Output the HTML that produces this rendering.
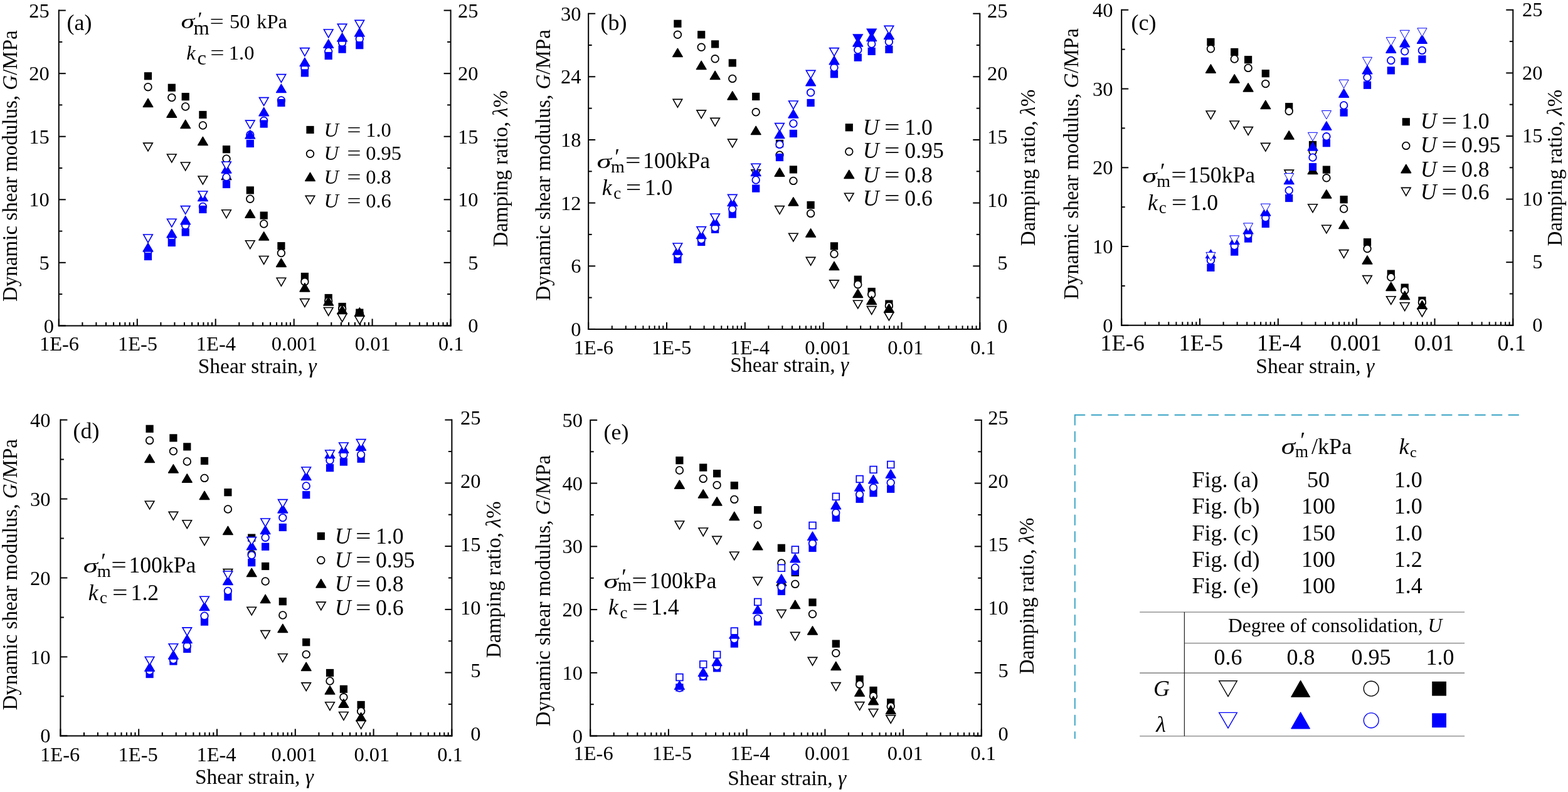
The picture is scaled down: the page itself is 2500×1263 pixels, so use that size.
<!DOCTYPE html>
<html><head><meta charset="utf-8"><style>
html,body{margin:0;padding:0;background:#fff;overflow:hidden;width:2500px;height:1263px;}
svg{display:block}
text{font-family:"Liberation Serif",serif;fill:#000}
</style></head><body>
<svg width="2500" height="1263" viewBox="0 0 2500 1263">
<rect width="2500" height="1263" fill="#fff"/>
<line x1="93.8" y1="15.6" x2="93.8" y2="520.4" stroke="#000" stroke-width="2"/>
<line x1="718.6" y1="15.6" x2="718.6" y2="520.4" stroke="#000" stroke-width="2"/>
<line x1="92.8" y1="519.4" x2="719.6" y2="519.4" stroke="#000" stroke-width="2"/>
<line x1="93.8" y1="519.4" x2="104.8" y2="519.4" stroke="#000" stroke-width="2"/>
<line x1="93.8" y1="469.1" x2="99.3" y2="469.1" stroke="#000" stroke-width="2"/>
<line x1="93.8" y1="418.8" x2="104.8" y2="418.8" stroke="#000" stroke-width="2"/>
<line x1="93.8" y1="368.6" x2="99.3" y2="368.6" stroke="#000" stroke-width="2"/>
<line x1="93.8" y1="318.3" x2="104.8" y2="318.3" stroke="#000" stroke-width="2"/>
<line x1="93.8" y1="268.0" x2="99.3" y2="268.0" stroke="#000" stroke-width="2"/>
<line x1="93.8" y1="217.7" x2="104.8" y2="217.7" stroke="#000" stroke-width="2"/>
<line x1="93.8" y1="167.4" x2="99.3" y2="167.4" stroke="#000" stroke-width="2"/>
<line x1="93.8" y1="117.2" x2="104.8" y2="117.2" stroke="#000" stroke-width="2"/>
<line x1="93.8" y1="66.9" x2="99.3" y2="66.9" stroke="#000" stroke-width="2"/>
<line x1="93.8" y1="16.6" x2="104.8" y2="16.6" stroke="#000" stroke-width="2"/>
<line x1="718.6" y1="519.4" x2="707.6" y2="519.4" stroke="#000" stroke-width="2"/>
<line x1="718.6" y1="469.1" x2="713.1" y2="469.1" stroke="#000" stroke-width="2"/>
<line x1="718.6" y1="418.8" x2="707.6" y2="418.8" stroke="#000" stroke-width="2"/>
<line x1="718.6" y1="368.6" x2="713.1" y2="368.6" stroke="#000" stroke-width="2"/>
<line x1="718.6" y1="318.3" x2="707.6" y2="318.3" stroke="#000" stroke-width="2"/>
<line x1="718.6" y1="268.0" x2="713.1" y2="268.0" stroke="#000" stroke-width="2"/>
<line x1="718.6" y1="217.7" x2="707.6" y2="217.7" stroke="#000" stroke-width="2"/>
<line x1="718.6" y1="167.4" x2="713.1" y2="167.4" stroke="#000" stroke-width="2"/>
<line x1="718.6" y1="117.2" x2="707.6" y2="117.2" stroke="#000" stroke-width="2"/>
<line x1="718.6" y1="66.9" x2="713.1" y2="66.9" stroke="#000" stroke-width="2"/>
<line x1="718.6" y1="16.6" x2="707.6" y2="16.6" stroke="#000" stroke-width="2"/>
<line x1="93.8" y1="519.4" x2="93.8" y2="508.4" stroke="#000" stroke-width="2"/>
<line x1="131.4" y1="519.4" x2="131.4" y2="513.9" stroke="#000" stroke-width="2"/>
<line x1="153.4" y1="519.4" x2="153.4" y2="513.9" stroke="#000" stroke-width="2"/>
<line x1="169.0" y1="519.4" x2="169.0" y2="513.9" stroke="#000" stroke-width="2"/>
<line x1="181.1" y1="519.4" x2="181.1" y2="513.9" stroke="#000" stroke-width="2"/>
<line x1="191.0" y1="519.4" x2="191.0" y2="513.9" stroke="#000" stroke-width="2"/>
<line x1="199.4" y1="519.4" x2="199.4" y2="513.9" stroke="#000" stroke-width="2"/>
<line x1="206.7" y1="519.4" x2="206.7" y2="513.9" stroke="#000" stroke-width="2"/>
<line x1="213.0" y1="519.4" x2="213.0" y2="513.9" stroke="#000" stroke-width="2"/>
<line x1="218.8" y1="519.4" x2="218.8" y2="508.4" stroke="#000" stroke-width="2"/>
<line x1="256.4" y1="519.4" x2="256.4" y2="513.9" stroke="#000" stroke-width="2"/>
<line x1="278.4" y1="519.4" x2="278.4" y2="513.9" stroke="#000" stroke-width="2"/>
<line x1="294.0" y1="519.4" x2="294.0" y2="513.9" stroke="#000" stroke-width="2"/>
<line x1="306.1" y1="519.4" x2="306.1" y2="513.9" stroke="#000" stroke-width="2"/>
<line x1="316.0" y1="519.4" x2="316.0" y2="513.9" stroke="#000" stroke-width="2"/>
<line x1="324.4" y1="519.4" x2="324.4" y2="513.9" stroke="#000" stroke-width="2"/>
<line x1="331.6" y1="519.4" x2="331.6" y2="513.9" stroke="#000" stroke-width="2"/>
<line x1="338.0" y1="519.4" x2="338.0" y2="513.9" stroke="#000" stroke-width="2"/>
<line x1="343.7" y1="519.4" x2="343.7" y2="508.4" stroke="#000" stroke-width="2"/>
<line x1="381.3" y1="519.4" x2="381.3" y2="513.9" stroke="#000" stroke-width="2"/>
<line x1="403.3" y1="519.4" x2="403.3" y2="513.9" stroke="#000" stroke-width="2"/>
<line x1="419.0" y1="519.4" x2="419.0" y2="513.9" stroke="#000" stroke-width="2"/>
<line x1="431.1" y1="519.4" x2="431.1" y2="513.9" stroke="#000" stroke-width="2"/>
<line x1="441.0" y1="519.4" x2="441.0" y2="513.9" stroke="#000" stroke-width="2"/>
<line x1="449.3" y1="519.4" x2="449.3" y2="513.9" stroke="#000" stroke-width="2"/>
<line x1="456.6" y1="519.4" x2="456.6" y2="513.9" stroke="#000" stroke-width="2"/>
<line x1="463.0" y1="519.4" x2="463.0" y2="513.9" stroke="#000" stroke-width="2"/>
<line x1="468.7" y1="519.4" x2="468.7" y2="508.4" stroke="#000" stroke-width="2"/>
<line x1="506.3" y1="519.4" x2="506.3" y2="513.9" stroke="#000" stroke-width="2"/>
<line x1="528.3" y1="519.4" x2="528.3" y2="513.9" stroke="#000" stroke-width="2"/>
<line x1="543.9" y1="519.4" x2="543.9" y2="513.9" stroke="#000" stroke-width="2"/>
<line x1="556.0" y1="519.4" x2="556.0" y2="513.9" stroke="#000" stroke-width="2"/>
<line x1="565.9" y1="519.4" x2="565.9" y2="513.9" stroke="#000" stroke-width="2"/>
<line x1="574.3" y1="519.4" x2="574.3" y2="513.9" stroke="#000" stroke-width="2"/>
<line x1="581.5" y1="519.4" x2="581.5" y2="513.9" stroke="#000" stroke-width="2"/>
<line x1="587.9" y1="519.4" x2="587.9" y2="513.9" stroke="#000" stroke-width="2"/>
<line x1="593.6" y1="519.4" x2="593.6" y2="508.4" stroke="#000" stroke-width="2"/>
<line x1="631.3" y1="519.4" x2="631.3" y2="513.9" stroke="#000" stroke-width="2"/>
<line x1="653.3" y1="519.4" x2="653.3" y2="513.9" stroke="#000" stroke-width="2"/>
<line x1="668.9" y1="519.4" x2="668.9" y2="513.9" stroke="#000" stroke-width="2"/>
<line x1="681.0" y1="519.4" x2="681.0" y2="513.9" stroke="#000" stroke-width="2"/>
<line x1="690.9" y1="519.4" x2="690.9" y2="513.9" stroke="#000" stroke-width="2"/>
<line x1="699.2" y1="519.4" x2="699.2" y2="513.9" stroke="#000" stroke-width="2"/>
<line x1="706.5" y1="519.4" x2="706.5" y2="513.9" stroke="#000" stroke-width="2"/>
<line x1="712.9" y1="519.4" x2="712.9" y2="513.9" stroke="#000" stroke-width="2"/>
<line x1="718.6" y1="519.4" x2="718.6" y2="508.4" stroke="#000" stroke-width="2"/>
<rect x="229.9" y="115.2" width="12.2" height="12.2" fill="#000"/>
<rect x="267.7" y="133.7" width="12.2" height="12.2" fill="#000"/>
<rect x="289.6" y="148.1" width="12.2" height="12.2" fill="#000"/>
<rect x="317.3" y="176.9" width="12.2" height="12.2" fill="#000"/>
<rect x="354.9" y="232.1" width="12.2" height="12.2" fill="#000"/>
<rect x="392.7" y="297.3" width="12.2" height="12.2" fill="#000"/>
<rect x="414.6" y="337.5" width="12.2" height="12.2" fill="#000"/>
<rect x="442.3" y="386.1" width="12.2" height="12.2" fill="#000"/>
<rect x="479.8" y="434.9" width="12.2" height="12.2" fill="#000"/>
<rect x="517.6" y="468.9" width="12.2" height="12.2" fill="#000"/>
<rect x="539.5" y="482.9" width="12.2" height="12.2" fill="#000"/>
<rect x="567.2" y="492.5" width="12.2" height="12.2" fill="#000"/>
<circle cx="236.0" cy="138.7" r="5.8" fill="#fff" stroke="#000" stroke-width="1.8"/>
<circle cx="273.8" cy="155.6" r="5.8" fill="#fff" stroke="#000" stroke-width="1.8"/>
<circle cx="295.7" cy="170.0" r="5.8" fill="#fff" stroke="#000" stroke-width="1.8"/>
<circle cx="323.4" cy="200.0" r="5.8" fill="#fff" stroke="#000" stroke-width="1.8"/>
<circle cx="361.0" cy="253.2" r="5.8" fill="#fff" stroke="#000" stroke-width="1.8"/>
<circle cx="398.8" cy="317.2" r="5.8" fill="#fff" stroke="#000" stroke-width="1.8"/>
<circle cx="420.7" cy="357.0" r="5.8" fill="#fff" stroke="#000" stroke-width="1.8"/>
<circle cx="448.4" cy="403.5" r="5.8" fill="#fff" stroke="#000" stroke-width="1.8"/>
<circle cx="485.9" cy="449.3" r="5.8" fill="#fff" stroke="#000" stroke-width="1.8"/>
<circle cx="523.7" cy="480.0" r="5.8" fill="#fff" stroke="#000" stroke-width="1.8"/>
<circle cx="545.6" cy="492.6" r="5.8" fill="#fff" stroke="#000" stroke-width="1.8"/>
<circle cx="573.3" cy="500.2" r="5.8" fill="#fff" stroke="#000" stroke-width="1.8"/>
<path d="M236.0 157.4L243.8 170.6L228.2 170.6Z" fill="#000" stroke="#000" stroke-width="1.5" stroke-linejoin="round"/>
<path d="M273.8 174.0L281.6 187.2L266.0 187.2Z" fill="#000" stroke="#000" stroke-width="1.5" stroke-linejoin="round"/>
<path d="M295.7 191.4L303.5 204.6L287.9 204.6Z" fill="#000" stroke="#000" stroke-width="1.5" stroke-linejoin="round"/>
<path d="M323.4 218.4L331.2 231.6L315.6 231.6Z" fill="#000" stroke="#000" stroke-width="1.5" stroke-linejoin="round"/>
<path d="M361.0 273.4L368.8 286.6L353.2 286.6Z" fill="#000" stroke="#000" stroke-width="1.5" stroke-linejoin="round"/>
<path d="M398.8 334.0L406.6 347.2L391.0 347.2Z" fill="#000" stroke="#000" stroke-width="1.5" stroke-linejoin="round"/>
<path d="M420.7 369.8L428.5 383.0L412.9 383.0Z" fill="#000" stroke="#000" stroke-width="1.5" stroke-linejoin="round"/>
<path d="M448.4 412.3L456.2 425.5L440.6 425.5Z" fill="#000" stroke="#000" stroke-width="1.5" stroke-linejoin="round"/>
<path d="M485.9 451.7L493.7 464.9L478.1 464.9Z" fill="#000" stroke="#000" stroke-width="1.5" stroke-linejoin="round"/>
<path d="M523.7 473.9L531.5 487.1L515.9 487.1Z" fill="#000" stroke="#000" stroke-width="1.5" stroke-linejoin="round"/>
<path d="M545.6 487.4L553.4 500.6L537.8 500.6Z" fill="#000" stroke="#000" stroke-width="1.5" stroke-linejoin="round"/>
<path d="M573.3 490.9L581.1 504.1L565.5 504.1Z" fill="#000" stroke="#000" stroke-width="1.5" stroke-linejoin="round"/>
<path d="M228.7 228.1L243.3 228.1L236.0 240.9Z" fill="#fff" stroke="#000" stroke-width="1.6"/>
<path d="M266.5 246.0L281.1 246.0L273.8 258.8Z" fill="#fff" stroke="#000" stroke-width="1.6"/>
<path d="M288.4 259.0L303.0 259.0L295.7 271.8Z" fill="#fff" stroke="#000" stroke-width="1.6"/>
<path d="M316.1 281.0L330.7 281.0L323.4 293.8Z" fill="#fff" stroke="#000" stroke-width="1.6"/>
<path d="M353.7 334.8L368.3 334.8L361.0 347.6Z" fill="#fff" stroke="#000" stroke-width="1.6"/>
<path d="M391.5 383.8L406.1 383.8L398.8 396.6Z" fill="#fff" stroke="#000" stroke-width="1.6"/>
<path d="M413.4 408.5L428.0 408.5L420.7 421.3Z" fill="#fff" stroke="#000" stroke-width="1.6"/>
<path d="M441.1 443.3L455.7 443.3L448.4 456.1Z" fill="#fff" stroke="#000" stroke-width="1.6"/>
<path d="M478.6 476.6L493.2 476.6L485.9 489.4Z" fill="#fff" stroke="#000" stroke-width="1.6"/>
<path d="M516.4 490.5L531.0 490.5L523.7 503.3Z" fill="#fff" stroke="#000" stroke-width="1.6"/>
<path d="M538.3 500.4L552.9 500.4L545.6 513.2Z" fill="#fff" stroke="#000" stroke-width="1.6"/>
<path d="M566.0 504.3L580.6 504.3L573.3 517.1Z" fill="#fff" stroke="#000" stroke-width="1.6"/>
<circle cx="236.0" cy="401.0" r="5.8" fill="#fff" stroke="#0000ff" stroke-width="1.8"/>
<circle cx="273.8" cy="378.0" r="5.8" fill="#fff" stroke="#0000ff" stroke-width="1.8"/>
<circle cx="295.7" cy="359.6" r="5.8" fill="#fff" stroke="#0000ff" stroke-width="1.8"/>
<circle cx="323.4" cy="329.4" r="5.8" fill="#fff" stroke="#0000ff" stroke-width="1.8"/>
<circle cx="361.0" cy="282.4" r="5.8" fill="#fff" stroke="#0000ff" stroke-width="1.8"/>
<circle cx="398.8" cy="215.0" r="5.8" fill="#fff" stroke="#0000ff" stroke-width="1.8"/>
<circle cx="420.7" cy="192.4" r="5.8" fill="#fff" stroke="#0000ff" stroke-width="1.8"/>
<circle cx="448.4" cy="160.0" r="5.8" fill="#fff" stroke="#0000ff" stroke-width="1.8"/>
<circle cx="485.9" cy="108.5" r="5.8" fill="#fff" stroke="#0000ff" stroke-width="1.8"/>
<circle cx="523.7" cy="82.0" r="5.8" fill="#fff" stroke="#0000ff" stroke-width="1.8"/>
<circle cx="545.6" cy="68.0" r="5.8" fill="#fff" stroke="#0000ff" stroke-width="1.8"/>
<circle cx="573.3" cy="62.2" r="5.8" fill="#fff" stroke="#0000ff" stroke-width="1.8"/>
<rect x="229.9" y="402.9" width="12.2" height="12.2" fill="#0000ff"/>
<rect x="267.7" y="380.9" width="12.2" height="12.2" fill="#0000ff"/>
<rect x="289.6" y="364.3" width="12.2" height="12.2" fill="#0000ff"/>
<rect x="317.3" y="327.9" width="12.2" height="12.2" fill="#0000ff"/>
<rect x="354.9" y="287.9" width="12.2" height="12.2" fill="#0000ff"/>
<rect x="392.7" y="222.9" width="12.2" height="12.2" fill="#0000ff"/>
<rect x="414.6" y="191.5" width="12.2" height="12.2" fill="#0000ff"/>
<rect x="442.3" y="157.9" width="12.2" height="12.2" fill="#0000ff"/>
<rect x="479.8" y="110.3" width="12.2" height="12.2" fill="#0000ff"/>
<rect x="517.6" y="82.9" width="12.2" height="12.2" fill="#0000ff"/>
<rect x="539.5" y="72.5" width="12.2" height="12.2" fill="#0000ff"/>
<rect x="567.2" y="66.1" width="12.2" height="12.2" fill="#0000ff"/>
<path d="M236.0 387.8L243.8 401.0L228.2 401.0Z" fill="#0000ff" stroke="#0000ff" stroke-width="1.5" stroke-linejoin="round"/>
<path d="M273.8 365.6L281.6 378.8L266.0 378.8Z" fill="#0000ff" stroke="#0000ff" stroke-width="1.5" stroke-linejoin="round"/>
<path d="M295.7 344.6L303.5 357.8L287.9 357.8Z" fill="#0000ff" stroke="#0000ff" stroke-width="1.5" stroke-linejoin="round"/>
<path d="M323.4 307.4L331.2 320.6L315.6 320.6Z" fill="#0000ff" stroke="#0000ff" stroke-width="1.5" stroke-linejoin="round"/>
<path d="M361.0 262.8L368.8 276.0L353.2 276.0Z" fill="#0000ff" stroke="#0000ff" stroke-width="1.5" stroke-linejoin="round"/>
<path d="M398.8 207.9L406.6 221.1L391.0 221.1Z" fill="#0000ff" stroke="#0000ff" stroke-width="1.5" stroke-linejoin="round"/>
<path d="M420.7 171.6L428.5 184.8L412.9 184.8Z" fill="#0000ff" stroke="#0000ff" stroke-width="1.5" stroke-linejoin="round"/>
<path d="M448.4 134.4L456.2 147.6L440.6 147.6Z" fill="#0000ff" stroke="#0000ff" stroke-width="1.5" stroke-linejoin="round"/>
<path d="M485.9 92.4L493.7 105.6L478.1 105.6Z" fill="#0000ff" stroke="#0000ff" stroke-width="1.5" stroke-linejoin="round"/>
<path d="M523.7 63.1L531.5 76.3L515.9 76.3Z" fill="#0000ff" stroke="#0000ff" stroke-width="1.5" stroke-linejoin="round"/>
<path d="M545.6 52.8L553.4 66.0L537.8 66.0Z" fill="#0000ff" stroke="#0000ff" stroke-width="1.5" stroke-linejoin="round"/>
<path d="M573.3 44.9L581.1 58.1L565.5 58.1Z" fill="#0000ff" stroke="#0000ff" stroke-width="1.5" stroke-linejoin="round"/>
<path d="M228.7 374.0L243.3 374.0L236.0 386.8Z" fill="#fff" stroke="#0000ff" stroke-width="1.6"/>
<path d="M266.5 349.2L281.1 349.2L273.8 362.0Z" fill="#fff" stroke="#0000ff" stroke-width="1.6"/>
<path d="M288.4 328.6L303.0 328.6L295.7 341.4Z" fill="#fff" stroke="#0000ff" stroke-width="1.6"/>
<path d="M316.1 305.0L330.7 305.0L323.4 317.8Z" fill="#fff" stroke="#0000ff" stroke-width="1.6"/>
<path d="M353.7 258.0L368.3 258.0L361.0 270.8Z" fill="#fff" stroke="#0000ff" stroke-width="1.6"/>
<path d="M391.5 192.1L406.1 192.1L398.8 204.9Z" fill="#fff" stroke="#0000ff" stroke-width="1.6"/>
<path d="M413.4 155.6L428.0 155.6L420.7 168.4Z" fill="#fff" stroke="#0000ff" stroke-width="1.6"/>
<path d="M441.1 118.6L455.7 118.6L448.4 131.4Z" fill="#fff" stroke="#0000ff" stroke-width="1.6"/>
<path d="M478.6 76.6L493.2 76.6L485.9 89.4Z" fill="#fff" stroke="#0000ff" stroke-width="1.6"/>
<path d="M516.4 47.0L531.0 47.0L523.7 59.8Z" fill="#fff" stroke="#0000ff" stroke-width="1.6"/>
<path d="M538.3 38.4L552.9 38.4L545.6 51.2Z" fill="#fff" stroke="#0000ff" stroke-width="1.6"/>
<path d="M566.0 32.4L580.6 32.4L573.3 45.2Z" fill="#fff" stroke="#0000ff" stroke-width="1.6"/>
<text x="86.0" y="531.0" font-size="32.5" text-anchor="end">0</text>
<text x="78.8" y="429.8" font-size="32.5" text-anchor="end">5</text>
<text x="78.8" y="329.3" font-size="32.5" text-anchor="end">10</text>
<text x="78.8" y="228.7" font-size="32.5" text-anchor="end">15</text>
<text x="78.8" y="128.2" font-size="32.5" text-anchor="end">20</text>
<text x="78.8" y="27.6" font-size="32.5" text-anchor="end">25</text>
<text x="762.5" y="530.4" font-size="32.5" text-anchor="end">0</text>
<text x="762.5" y="429.8" font-size="32.5" text-anchor="end">5</text>
<text x="762.5" y="329.3" font-size="32.5" text-anchor="end">10</text>
<text x="762.5" y="228.7" font-size="32.5" text-anchor="end">15</text>
<text x="762.5" y="128.2" font-size="32.5" text-anchor="end">20</text>
<text x="762.5" y="27.6" font-size="32.5" text-anchor="end">25</text>
<text x="94.5" y="559.3" font-size="32.5" text-anchor="middle">1E-6</text>
<text x="219.5" y="559.3" font-size="32.5" text-anchor="middle">1E-5</text>
<text x="344.4" y="559.3" font-size="32.5" text-anchor="middle">1E-4</text>
<text x="469.4" y="559.3" font-size="32.5" text-anchor="middle">0.001</text>
<text x="594.3" y="559.3" font-size="32.5" text-anchor="middle">0.01</text>
<text x="719.3" y="559.3" font-size="32.5" text-anchor="middle">0.1</text>
<text x="410.2" y="595.2" font-size="33.5" text-anchor="middle">Shear strain, <tspan font-style="italic">γ</tspan></text>
<text x="26.6" y="264.6" font-size="33" text-anchor="middle" transform="rotate(-90 26.6 264.6)">Dynamic shear modulus, <tspan font-style="italic">G</tspan>/MPa</text>
<text x="809.5" y="268.8" font-size="33" text-anchor="middle" transform="rotate(-90 809.5 268.8)">Damping ratio, <tspan font-style="italic">λ</tspan>%</text>
<text x="106.5" y="47.5" font-size="36">(a)</text>
<line x1="938.2" y1="20.7" x2="938.2" y2="525.9" stroke="#000" stroke-width="2"/>
<line x1="1562.3" y1="20.7" x2="1562.3" y2="525.9" stroke="#000" stroke-width="2"/>
<line x1="937.2" y1="524.9" x2="1563.3" y2="524.9" stroke="#000" stroke-width="2"/>
<line x1="938.2" y1="524.9" x2="949.2" y2="524.9" stroke="#000" stroke-width="2"/>
<line x1="938.2" y1="474.6" x2="943.7" y2="474.6" stroke="#000" stroke-width="2"/>
<line x1="938.2" y1="424.3" x2="949.2" y2="424.3" stroke="#000" stroke-width="2"/>
<line x1="938.2" y1="373.9" x2="943.7" y2="373.9" stroke="#000" stroke-width="2"/>
<line x1="938.2" y1="323.6" x2="949.2" y2="323.6" stroke="#000" stroke-width="2"/>
<line x1="938.2" y1="273.3" x2="943.7" y2="273.3" stroke="#000" stroke-width="2"/>
<line x1="938.2" y1="223.0" x2="949.2" y2="223.0" stroke="#000" stroke-width="2"/>
<line x1="938.2" y1="172.7" x2="943.7" y2="172.7" stroke="#000" stroke-width="2"/>
<line x1="938.2" y1="122.3" x2="949.2" y2="122.3" stroke="#000" stroke-width="2"/>
<line x1="938.2" y1="72.0" x2="943.7" y2="72.0" stroke="#000" stroke-width="2"/>
<line x1="938.2" y1="21.7" x2="949.2" y2="21.7" stroke="#000" stroke-width="2"/>
<line x1="1562.3" y1="524.9" x2="1551.3" y2="524.9" stroke="#000" stroke-width="2"/>
<line x1="1562.3" y1="474.6" x2="1556.8" y2="474.6" stroke="#000" stroke-width="2"/>
<line x1="1562.3" y1="424.3" x2="1551.3" y2="424.3" stroke="#000" stroke-width="2"/>
<line x1="1562.3" y1="373.9" x2="1556.8" y2="373.9" stroke="#000" stroke-width="2"/>
<line x1="1562.3" y1="323.6" x2="1551.3" y2="323.6" stroke="#000" stroke-width="2"/>
<line x1="1562.3" y1="273.3" x2="1556.8" y2="273.3" stroke="#000" stroke-width="2"/>
<line x1="1562.3" y1="223.0" x2="1551.3" y2="223.0" stroke="#000" stroke-width="2"/>
<line x1="1562.3" y1="172.7" x2="1556.8" y2="172.7" stroke="#000" stroke-width="2"/>
<line x1="1562.3" y1="122.3" x2="1551.3" y2="122.3" stroke="#000" stroke-width="2"/>
<line x1="1562.3" y1="72.0" x2="1556.8" y2="72.0" stroke="#000" stroke-width="2"/>
<line x1="1562.3" y1="21.7" x2="1551.3" y2="21.7" stroke="#000" stroke-width="2"/>
<line x1="938.2" y1="524.9" x2="938.2" y2="513.9" stroke="#000" stroke-width="2"/>
<line x1="975.8" y1="524.9" x2="975.8" y2="519.4" stroke="#000" stroke-width="2"/>
<line x1="997.8" y1="524.9" x2="997.8" y2="519.4" stroke="#000" stroke-width="2"/>
<line x1="1013.3" y1="524.9" x2="1013.3" y2="519.4" stroke="#000" stroke-width="2"/>
<line x1="1025.4" y1="524.9" x2="1025.4" y2="519.4" stroke="#000" stroke-width="2"/>
<line x1="1035.3" y1="524.9" x2="1035.3" y2="519.4" stroke="#000" stroke-width="2"/>
<line x1="1043.7" y1="524.9" x2="1043.7" y2="519.4" stroke="#000" stroke-width="2"/>
<line x1="1050.9" y1="524.9" x2="1050.9" y2="519.4" stroke="#000" stroke-width="2"/>
<line x1="1057.3" y1="524.9" x2="1057.3" y2="519.4" stroke="#000" stroke-width="2"/>
<line x1="1063.0" y1="524.9" x2="1063.0" y2="513.9" stroke="#000" stroke-width="2"/>
<line x1="1100.6" y1="524.9" x2="1100.6" y2="519.4" stroke="#000" stroke-width="2"/>
<line x1="1122.6" y1="524.9" x2="1122.6" y2="519.4" stroke="#000" stroke-width="2"/>
<line x1="1138.2" y1="524.9" x2="1138.2" y2="519.4" stroke="#000" stroke-width="2"/>
<line x1="1150.3" y1="524.9" x2="1150.3" y2="519.4" stroke="#000" stroke-width="2"/>
<line x1="1160.1" y1="524.9" x2="1160.1" y2="519.4" stroke="#000" stroke-width="2"/>
<line x1="1168.5" y1="524.9" x2="1168.5" y2="519.4" stroke="#000" stroke-width="2"/>
<line x1="1175.7" y1="524.9" x2="1175.7" y2="519.4" stroke="#000" stroke-width="2"/>
<line x1="1182.1" y1="524.9" x2="1182.1" y2="519.4" stroke="#000" stroke-width="2"/>
<line x1="1187.8" y1="524.9" x2="1187.8" y2="513.9" stroke="#000" stroke-width="2"/>
<line x1="1225.4" y1="524.9" x2="1225.4" y2="519.4" stroke="#000" stroke-width="2"/>
<line x1="1247.4" y1="524.9" x2="1247.4" y2="519.4" stroke="#000" stroke-width="2"/>
<line x1="1263.0" y1="524.9" x2="1263.0" y2="519.4" stroke="#000" stroke-width="2"/>
<line x1="1275.1" y1="524.9" x2="1275.1" y2="519.4" stroke="#000" stroke-width="2"/>
<line x1="1285.0" y1="524.9" x2="1285.0" y2="519.4" stroke="#000" stroke-width="2"/>
<line x1="1293.3" y1="524.9" x2="1293.3" y2="519.4" stroke="#000" stroke-width="2"/>
<line x1="1300.6" y1="524.9" x2="1300.6" y2="519.4" stroke="#000" stroke-width="2"/>
<line x1="1306.9" y1="524.9" x2="1306.9" y2="519.4" stroke="#000" stroke-width="2"/>
<line x1="1312.7" y1="524.9" x2="1312.7" y2="513.9" stroke="#000" stroke-width="2"/>
<line x1="1350.2" y1="524.9" x2="1350.2" y2="519.4" stroke="#000" stroke-width="2"/>
<line x1="1372.2" y1="524.9" x2="1372.2" y2="519.4" stroke="#000" stroke-width="2"/>
<line x1="1387.8" y1="524.9" x2="1387.8" y2="519.4" stroke="#000" stroke-width="2"/>
<line x1="1399.9" y1="524.9" x2="1399.9" y2="519.4" stroke="#000" stroke-width="2"/>
<line x1="1409.8" y1="524.9" x2="1409.8" y2="519.4" stroke="#000" stroke-width="2"/>
<line x1="1418.1" y1="524.9" x2="1418.1" y2="519.4" stroke="#000" stroke-width="2"/>
<line x1="1425.4" y1="524.9" x2="1425.4" y2="519.4" stroke="#000" stroke-width="2"/>
<line x1="1431.8" y1="524.9" x2="1431.8" y2="519.4" stroke="#000" stroke-width="2"/>
<line x1="1437.5" y1="524.9" x2="1437.5" y2="513.9" stroke="#000" stroke-width="2"/>
<line x1="1475.1" y1="524.9" x2="1475.1" y2="519.4" stroke="#000" stroke-width="2"/>
<line x1="1497.0" y1="524.9" x2="1497.0" y2="519.4" stroke="#000" stroke-width="2"/>
<line x1="1512.6" y1="524.9" x2="1512.6" y2="519.4" stroke="#000" stroke-width="2"/>
<line x1="1524.7" y1="524.9" x2="1524.7" y2="519.4" stroke="#000" stroke-width="2"/>
<line x1="1534.6" y1="524.9" x2="1534.6" y2="519.4" stroke="#000" stroke-width="2"/>
<line x1="1543.0" y1="524.9" x2="1543.0" y2="519.4" stroke="#000" stroke-width="2"/>
<line x1="1550.2" y1="524.9" x2="1550.2" y2="519.4" stroke="#000" stroke-width="2"/>
<line x1="1556.6" y1="524.9" x2="1556.6" y2="519.4" stroke="#000" stroke-width="2"/>
<line x1="1562.3" y1="524.9" x2="1562.3" y2="513.9" stroke="#000" stroke-width="2"/>
<rect x="1074.3" y="31.7" width="12.2" height="12.2" fill="#000"/>
<rect x="1112.1" y="49.2" width="12.2" height="12.2" fill="#000"/>
<rect x="1134.0" y="64.3" width="12.2" height="12.2" fill="#000"/>
<rect x="1161.7" y="94.3" width="12.2" height="12.2" fill="#000"/>
<rect x="1199.1" y="147.9" width="12.2" height="12.2" fill="#000"/>
<rect x="1236.9" y="222.9" width="12.2" height="12.2" fill="#000"/>
<rect x="1258.8" y="264.3" width="12.2" height="12.2" fill="#000"/>
<rect x="1286.5" y="320.9" width="12.2" height="12.2" fill="#000"/>
<rect x="1323.9" y="386.3" width="12.2" height="12.2" fill="#000"/>
<rect x="1361.7" y="439.6" width="12.2" height="12.2" fill="#000"/>
<rect x="1383.6" y="458.9" width="12.2" height="12.2" fill="#000"/>
<rect x="1411.3" y="478.5" width="12.2" height="12.2" fill="#000"/>
<circle cx="1080.4" cy="55.3" r="5.8" fill="#fff" stroke="#000" stroke-width="1.8"/>
<circle cx="1118.2" cy="75.3" r="5.8" fill="#fff" stroke="#000" stroke-width="1.8"/>
<circle cx="1140.1" cy="93.8" r="5.8" fill="#fff" stroke="#000" stroke-width="1.8"/>
<circle cx="1167.8" cy="125.4" r="5.8" fill="#fff" stroke="#000" stroke-width="1.8"/>
<circle cx="1205.2" cy="178.8" r="5.8" fill="#fff" stroke="#000" stroke-width="1.8"/>
<circle cx="1243.0" cy="247.2" r="5.8" fill="#fff" stroke="#000" stroke-width="1.8"/>
<circle cx="1264.9" cy="288.4" r="5.8" fill="#fff" stroke="#000" stroke-width="1.8"/>
<circle cx="1292.6" cy="340.4" r="5.8" fill="#fff" stroke="#000" stroke-width="1.8"/>
<circle cx="1330.0" cy="405.0" r="5.8" fill="#fff" stroke="#000" stroke-width="1.8"/>
<circle cx="1367.8" cy="453.7" r="5.8" fill="#fff" stroke="#000" stroke-width="1.8"/>
<circle cx="1389.7" cy="469.5" r="5.8" fill="#fff" stroke="#000" stroke-width="1.8"/>
<circle cx="1417.4" cy="487.8" r="5.8" fill="#fff" stroke="#000" stroke-width="1.8"/>
<path d="M1080.4 77.4L1088.2 90.6L1072.6 90.6Z" fill="#000" stroke="#000" stroke-width="1.5" stroke-linejoin="round"/>
<path d="M1118.2 97.4L1126.0 110.6L1110.4 110.6Z" fill="#000" stroke="#000" stroke-width="1.5" stroke-linejoin="round"/>
<path d="M1140.1 113.4L1147.9 126.6L1132.3 126.6Z" fill="#000" stroke="#000" stroke-width="1.5" stroke-linejoin="round"/>
<path d="M1167.8 145.8L1175.6 159.0L1160.0 159.0Z" fill="#000" stroke="#000" stroke-width="1.5" stroke-linejoin="round"/>
<path d="M1205.2 201.4L1213.0 214.6L1197.4 214.6Z" fill="#000" stroke="#000" stroke-width="1.5" stroke-linejoin="round"/>
<path d="M1243.0 268.0L1250.8 281.2L1235.2 281.2Z" fill="#000" stroke="#000" stroke-width="1.5" stroke-linejoin="round"/>
<path d="M1264.9 314.8L1272.7 328.0L1257.1 328.0Z" fill="#000" stroke="#000" stroke-width="1.5" stroke-linejoin="round"/>
<path d="M1292.6 364.8L1300.4 378.0L1284.8 378.0Z" fill="#000" stroke="#000" stroke-width="1.5" stroke-linejoin="round"/>
<path d="M1330.0 417.4L1337.8 430.6L1322.2 430.6Z" fill="#000" stroke="#000" stroke-width="1.5" stroke-linejoin="round"/>
<path d="M1367.8 461.2L1375.6 474.4L1360.0 474.4Z" fill="#000" stroke="#000" stroke-width="1.5" stroke-linejoin="round"/>
<path d="M1389.7 472.4L1397.5 485.6L1381.9 485.6Z" fill="#000" stroke="#000" stroke-width="1.5" stroke-linejoin="round"/>
<path d="M1417.4 485.0L1425.2 498.2L1409.6 498.2Z" fill="#000" stroke="#000" stroke-width="1.5" stroke-linejoin="round"/>
<path d="M1073.1 158.4L1087.7 158.4L1080.4 171.2Z" fill="#fff" stroke="#000" stroke-width="1.6"/>
<path d="M1110.9 175.9L1125.5 175.9L1118.2 188.7Z" fill="#fff" stroke="#000" stroke-width="1.6"/>
<path d="M1132.8 188.4L1147.4 188.4L1140.1 201.2Z" fill="#fff" stroke="#000" stroke-width="1.6"/>
<path d="M1160.5 222.1L1175.1 222.1L1167.8 234.9Z" fill="#fff" stroke="#000" stroke-width="1.6"/>
<path d="M1197.9 270.9L1212.5 270.9L1205.2 283.7Z" fill="#fff" stroke="#000" stroke-width="1.6"/>
<path d="M1235.7 328.6L1250.3 328.6L1243.0 341.4Z" fill="#fff" stroke="#000" stroke-width="1.6"/>
<path d="M1257.6 372.2L1272.2 372.2L1264.9 385.0Z" fill="#fff" stroke="#000" stroke-width="1.6"/>
<path d="M1285.3 410.4L1299.9 410.4L1292.6 423.2Z" fill="#fff" stroke="#000" stroke-width="1.6"/>
<path d="M1322.7 446.9L1337.3 446.9L1330.0 459.7Z" fill="#fff" stroke="#000" stroke-width="1.6"/>
<path d="M1360.5 479.2L1375.1 479.2L1367.8 492.0Z" fill="#fff" stroke="#000" stroke-width="1.6"/>
<path d="M1382.4 488.6L1397.0 488.6L1389.7 501.4Z" fill="#fff" stroke="#000" stroke-width="1.6"/>
<path d="M1410.1 498.2L1424.7 498.2L1417.4 511.0Z" fill="#fff" stroke="#000" stroke-width="1.6"/>
<rect x="1074.3" y="407.6" width="12.2" height="12.2" fill="#0000ff"/>
<rect x="1112.1" y="379.9" width="12.2" height="12.2" fill="#0000ff"/>
<rect x="1134.0" y="359.7" width="12.2" height="12.2" fill="#0000ff"/>
<rect x="1161.7" y="335.5" width="12.2" height="12.2" fill="#0000ff"/>
<rect x="1199.1" y="294.5" width="12.2" height="12.2" fill="#0000ff"/>
<rect x="1236.9" y="244.9" width="12.2" height="12.2" fill="#0000ff"/>
<rect x="1258.8" y="206.9" width="12.2" height="12.2" fill="#0000ff"/>
<rect x="1286.5" y="157.9" width="12.2" height="12.2" fill="#0000ff"/>
<rect x="1323.9" y="112.1" width="12.2" height="12.2" fill="#0000ff"/>
<rect x="1361.7" y="85.6" width="12.2" height="12.2" fill="#0000ff"/>
<rect x="1383.6" y="75.8" width="12.2" height="12.2" fill="#0000ff"/>
<rect x="1411.3" y="72.7" width="12.2" height="12.2" fill="#0000ff"/>
<circle cx="1080.4" cy="406.1" r="5.8" fill="#fff" stroke="#0000ff" stroke-width="1.8"/>
<circle cx="1118.2" cy="382.0" r="5.8" fill="#fff" stroke="#0000ff" stroke-width="1.8"/>
<circle cx="1140.1" cy="363.4" r="5.8" fill="#fff" stroke="#0000ff" stroke-width="1.8"/>
<circle cx="1167.8" cy="333.6" r="5.8" fill="#fff" stroke="#0000ff" stroke-width="1.8"/>
<circle cx="1205.2" cy="287.0" r="5.8" fill="#fff" stroke="#0000ff" stroke-width="1.8"/>
<circle cx="1243.0" cy="230.4" r="5.8" fill="#fff" stroke="#0000ff" stroke-width="1.8"/>
<circle cx="1264.9" cy="197.0" r="5.8" fill="#fff" stroke="#0000ff" stroke-width="1.8"/>
<circle cx="1292.6" cy="147.6" r="5.8" fill="#fff" stroke="#0000ff" stroke-width="1.8"/>
<circle cx="1330.0" cy="107.8" r="5.8" fill="#fff" stroke="#0000ff" stroke-width="1.8"/>
<circle cx="1367.8" cy="79.6" r="5.8" fill="#fff" stroke="#0000ff" stroke-width="1.8"/>
<circle cx="1389.7" cy="70.0" r="5.8" fill="#fff" stroke="#0000ff" stroke-width="1.8"/>
<circle cx="1417.4" cy="66.8" r="5.8" fill="#fff" stroke="#0000ff" stroke-width="1.8"/>
<path d="M1080.4 392.8L1088.2 406.0L1072.6 406.0Z" fill="#0000ff" stroke="#0000ff" stroke-width="1.5" stroke-linejoin="round"/>
<path d="M1118.2 367.4L1126.0 380.6L1110.4 380.6Z" fill="#0000ff" stroke="#0000ff" stroke-width="1.5" stroke-linejoin="round"/>
<path d="M1140.1 346.4L1147.9 359.6L1132.3 359.6Z" fill="#0000ff" stroke="#0000ff" stroke-width="1.5" stroke-linejoin="round"/>
<path d="M1167.8 315.4L1175.6 328.6L1160.0 328.6Z" fill="#0000ff" stroke="#0000ff" stroke-width="1.5" stroke-linejoin="round"/>
<path d="M1205.2 267.4L1213.0 280.6L1197.4 280.6Z" fill="#0000ff" stroke="#0000ff" stroke-width="1.5" stroke-linejoin="round"/>
<path d="M1243.0 207.4L1250.8 220.6L1235.2 220.6Z" fill="#0000ff" stroke="#0000ff" stroke-width="1.5" stroke-linejoin="round"/>
<path d="M1264.9 174.8L1272.7 188.0L1257.1 188.0Z" fill="#0000ff" stroke="#0000ff" stroke-width="1.5" stroke-linejoin="round"/>
<path d="M1292.6 123.6L1300.4 136.8L1284.8 136.8Z" fill="#0000ff" stroke="#0000ff" stroke-width="1.5" stroke-linejoin="round"/>
<path d="M1330.0 89.6L1337.8 102.8L1322.2 102.8Z" fill="#0000ff" stroke="#0000ff" stroke-width="1.5" stroke-linejoin="round"/>
<path d="M1367.8 60.8L1375.6 74.0L1360.0 74.0Z" fill="#0000ff" stroke="#0000ff" stroke-width="1.5" stroke-linejoin="round"/>
<path d="M1389.7 52.2L1397.5 65.4L1381.9 65.4Z" fill="#0000ff" stroke="#0000ff" stroke-width="1.5" stroke-linejoin="round"/>
<path d="M1417.4 49.2L1425.2 62.4L1409.6 62.4Z" fill="#0000ff" stroke="#0000ff" stroke-width="1.5" stroke-linejoin="round"/>
<path d="M1073.1 388.0L1087.7 388.0L1080.4 400.8Z" fill="#fff" stroke="#0000ff" stroke-width="1.6"/>
<path d="M1110.9 361.6L1125.5 361.6L1118.2 374.4Z" fill="#fff" stroke="#0000ff" stroke-width="1.6"/>
<path d="M1132.8 341.0L1147.4 341.0L1140.1 353.8Z" fill="#fff" stroke="#0000ff" stroke-width="1.6"/>
<path d="M1160.5 310.4L1175.1 310.4L1167.8 323.2Z" fill="#fff" stroke="#0000ff" stroke-width="1.6"/>
<path d="M1197.9 261.2L1212.5 261.2L1205.2 274.0Z" fill="#fff" stroke="#0000ff" stroke-width="1.6"/>
<path d="M1235.7 196.6L1250.3 196.6L1243.0 209.4Z" fill="#fff" stroke="#0000ff" stroke-width="1.6"/>
<path d="M1257.6 161.0L1272.2 161.0L1264.9 173.8Z" fill="#fff" stroke="#0000ff" stroke-width="1.6"/>
<path d="M1285.3 112.4L1299.9 112.4L1292.6 125.2Z" fill="#fff" stroke="#0000ff" stroke-width="1.6"/>
<path d="M1322.7 76.6L1337.3 76.6L1330.0 89.4Z" fill="#fff" stroke="#0000ff" stroke-width="1.6"/>
<path d="M1360.5 55.0L1375.1 55.0L1367.8 67.8Z" fill="#0000ff" stroke="#0000ff" stroke-width="1.6"/>
<path d="M1382.4 46.4L1397.0 46.4L1389.7 59.2Z" fill="#0000ff" stroke="#0000ff" stroke-width="1.6"/>
<path d="M1410.1 41.4L1424.7 41.4L1417.4 54.2Z" fill="#fff" stroke="#0000ff" stroke-width="1.6"/>
<text x="926.5" y="535.9" font-size="32.5" text-anchor="end">0</text>
<text x="926.5" y="435.3" font-size="32.5" text-anchor="end">6</text>
<text x="926.5" y="334.6" font-size="32.5" text-anchor="end">12</text>
<text x="926.5" y="234.0" font-size="32.5" text-anchor="end">18</text>
<text x="926.5" y="133.3" font-size="32.5" text-anchor="end">24</text>
<text x="926.5" y="32.7" font-size="32.5" text-anchor="end">30</text>
<text x="1606.5" y="530.9" font-size="32.5" text-anchor="end">0</text>
<text x="1606.5" y="430.3" font-size="32.5" text-anchor="end">5</text>
<text x="1606.5" y="329.6" font-size="32.5" text-anchor="end">10</text>
<text x="1606.5" y="229.0" font-size="32.5" text-anchor="end">15</text>
<text x="1606.5" y="128.3" font-size="32.5" text-anchor="end">20</text>
<text x="1606.5" y="27.7" font-size="32.5" text-anchor="end">25</text>
<text x="946.4" y="564.5" font-size="32.5" text-anchor="middle">1E-6</text>
<text x="1070.6" y="564.5" font-size="32.5" text-anchor="middle">1E-5</text>
<text x="1195.3" y="564.5" font-size="32.5" text-anchor="middle">1E-4</text>
<text x="1319.9" y="564.5" font-size="32.5" text-anchor="middle">0.001</text>
<text x="1443.7" y="564.5" font-size="32.5" text-anchor="middle">0.01</text>
<text x="1567.5" y="564.5" font-size="32.5" text-anchor="middle">0.1</text>
<text x="1258.8" y="593.1" font-size="33.5" text-anchor="middle">Shear strain, <tspan font-style="italic">γ</tspan></text>
<text x="876.8" y="263.5" font-size="33" text-anchor="middle" transform="rotate(-90 876.8 263.5)">Dynamic shear modulus, <tspan font-style="italic">G</tspan>/MPa</text>
<text x="1650.3" y="267.4" font-size="33" text-anchor="middle" transform="rotate(-90 1650.3 267.4)">Damping ratio, <tspan font-style="italic">λ</tspan>%</text>
<text x="957.5" y="47.5" font-size="36">(b)</text>
<line x1="1788.2" y1="14.8" x2="1788.2" y2="519.8" stroke="#000" stroke-width="2"/>
<line x1="2412.3" y1="14.8" x2="2412.3" y2="519.8" stroke="#000" stroke-width="2"/>
<line x1="1787.2" y1="518.8" x2="2413.3" y2="518.8" stroke="#000" stroke-width="2"/>
<line x1="1788.2" y1="518.8" x2="1799.2" y2="518.8" stroke="#000" stroke-width="2"/>
<line x1="1788.2" y1="455.9" x2="1793.7" y2="455.9" stroke="#000" stroke-width="2"/>
<line x1="1788.2" y1="393.0" x2="1799.2" y2="393.0" stroke="#000" stroke-width="2"/>
<line x1="1788.2" y1="330.2" x2="1793.7" y2="330.2" stroke="#000" stroke-width="2"/>
<line x1="1788.2" y1="267.3" x2="1799.2" y2="267.3" stroke="#000" stroke-width="2"/>
<line x1="1788.2" y1="204.4" x2="1793.7" y2="204.4" stroke="#000" stroke-width="2"/>
<line x1="1788.2" y1="141.6" x2="1799.2" y2="141.6" stroke="#000" stroke-width="2"/>
<line x1="1788.2" y1="78.7" x2="1793.7" y2="78.7" stroke="#000" stroke-width="2"/>
<line x1="1788.2" y1="15.8" x2="1799.2" y2="15.8" stroke="#000" stroke-width="2"/>
<line x1="2412.3" y1="518.8" x2="2401.3" y2="518.8" stroke="#000" stroke-width="2"/>
<line x1="2412.3" y1="468.5" x2="2406.8" y2="468.5" stroke="#000" stroke-width="2"/>
<line x1="2412.3" y1="418.2" x2="2401.3" y2="418.2" stroke="#000" stroke-width="2"/>
<line x1="2412.3" y1="367.9" x2="2406.8" y2="367.9" stroke="#000" stroke-width="2"/>
<line x1="2412.3" y1="317.6" x2="2401.3" y2="317.6" stroke="#000" stroke-width="2"/>
<line x1="2412.3" y1="267.3" x2="2406.8" y2="267.3" stroke="#000" stroke-width="2"/>
<line x1="2412.3" y1="217.0" x2="2401.3" y2="217.0" stroke="#000" stroke-width="2"/>
<line x1="2412.3" y1="166.7" x2="2406.8" y2="166.7" stroke="#000" stroke-width="2"/>
<line x1="2412.3" y1="116.4" x2="2401.3" y2="116.4" stroke="#000" stroke-width="2"/>
<line x1="2412.3" y1="66.1" x2="2406.8" y2="66.1" stroke="#000" stroke-width="2"/>
<line x1="2412.3" y1="15.8" x2="2401.3" y2="15.8" stroke="#000" stroke-width="2"/>
<line x1="1788.2" y1="518.8" x2="1788.2" y2="507.8" stroke="#000" stroke-width="2"/>
<line x1="1825.8" y1="518.8" x2="1825.8" y2="513.3" stroke="#000" stroke-width="2"/>
<line x1="1847.8" y1="518.8" x2="1847.8" y2="513.3" stroke="#000" stroke-width="2"/>
<line x1="1863.3" y1="518.8" x2="1863.3" y2="513.3" stroke="#000" stroke-width="2"/>
<line x1="1875.4" y1="518.8" x2="1875.4" y2="513.3" stroke="#000" stroke-width="2"/>
<line x1="1885.3" y1="518.8" x2="1885.3" y2="513.3" stroke="#000" stroke-width="2"/>
<line x1="1893.7" y1="518.8" x2="1893.7" y2="513.3" stroke="#000" stroke-width="2"/>
<line x1="1900.9" y1="518.8" x2="1900.9" y2="513.3" stroke="#000" stroke-width="2"/>
<line x1="1907.3" y1="518.8" x2="1907.3" y2="513.3" stroke="#000" stroke-width="2"/>
<line x1="1913.0" y1="518.8" x2="1913.0" y2="507.8" stroke="#000" stroke-width="2"/>
<line x1="1950.6" y1="518.8" x2="1950.6" y2="513.3" stroke="#000" stroke-width="2"/>
<line x1="1972.6" y1="518.8" x2="1972.6" y2="513.3" stroke="#000" stroke-width="2"/>
<line x1="1988.2" y1="518.8" x2="1988.2" y2="513.3" stroke="#000" stroke-width="2"/>
<line x1="2000.3" y1="518.8" x2="2000.3" y2="513.3" stroke="#000" stroke-width="2"/>
<line x1="2010.1" y1="518.8" x2="2010.1" y2="513.3" stroke="#000" stroke-width="2"/>
<line x1="2018.5" y1="518.8" x2="2018.5" y2="513.3" stroke="#000" stroke-width="2"/>
<line x1="2025.7" y1="518.8" x2="2025.7" y2="513.3" stroke="#000" stroke-width="2"/>
<line x1="2032.1" y1="518.8" x2="2032.1" y2="513.3" stroke="#000" stroke-width="2"/>
<line x1="2037.8" y1="518.8" x2="2037.8" y2="507.8" stroke="#000" stroke-width="2"/>
<line x1="2075.4" y1="518.8" x2="2075.4" y2="513.3" stroke="#000" stroke-width="2"/>
<line x1="2097.4" y1="518.8" x2="2097.4" y2="513.3" stroke="#000" stroke-width="2"/>
<line x1="2113.0" y1="518.8" x2="2113.0" y2="513.3" stroke="#000" stroke-width="2"/>
<line x1="2125.1" y1="518.8" x2="2125.1" y2="513.3" stroke="#000" stroke-width="2"/>
<line x1="2135.0" y1="518.8" x2="2135.0" y2="513.3" stroke="#000" stroke-width="2"/>
<line x1="2143.3" y1="518.8" x2="2143.3" y2="513.3" stroke="#000" stroke-width="2"/>
<line x1="2150.6" y1="518.8" x2="2150.6" y2="513.3" stroke="#000" stroke-width="2"/>
<line x1="2156.9" y1="518.8" x2="2156.9" y2="513.3" stroke="#000" stroke-width="2"/>
<line x1="2162.7" y1="518.8" x2="2162.7" y2="507.8" stroke="#000" stroke-width="2"/>
<line x1="2200.2" y1="518.8" x2="2200.2" y2="513.3" stroke="#000" stroke-width="2"/>
<line x1="2222.2" y1="518.8" x2="2222.2" y2="513.3" stroke="#000" stroke-width="2"/>
<line x1="2237.8" y1="518.8" x2="2237.8" y2="513.3" stroke="#000" stroke-width="2"/>
<line x1="2249.9" y1="518.8" x2="2249.9" y2="513.3" stroke="#000" stroke-width="2"/>
<line x1="2259.8" y1="518.8" x2="2259.8" y2="513.3" stroke="#000" stroke-width="2"/>
<line x1="2268.1" y1="518.8" x2="2268.1" y2="513.3" stroke="#000" stroke-width="2"/>
<line x1="2275.4" y1="518.8" x2="2275.4" y2="513.3" stroke="#000" stroke-width="2"/>
<line x1="2281.8" y1="518.8" x2="2281.8" y2="513.3" stroke="#000" stroke-width="2"/>
<line x1="2287.5" y1="518.8" x2="2287.5" y2="507.8" stroke="#000" stroke-width="2"/>
<line x1="2325.1" y1="518.8" x2="2325.1" y2="513.3" stroke="#000" stroke-width="2"/>
<line x1="2347.0" y1="518.8" x2="2347.0" y2="513.3" stroke="#000" stroke-width="2"/>
<line x1="2362.6" y1="518.8" x2="2362.6" y2="513.3" stroke="#000" stroke-width="2"/>
<line x1="2374.7" y1="518.8" x2="2374.7" y2="513.3" stroke="#000" stroke-width="2"/>
<line x1="2384.6" y1="518.8" x2="2384.6" y2="513.3" stroke="#000" stroke-width="2"/>
<line x1="2393.0" y1="518.8" x2="2393.0" y2="513.3" stroke="#000" stroke-width="2"/>
<line x1="2400.2" y1="518.8" x2="2400.2" y2="513.3" stroke="#000" stroke-width="2"/>
<line x1="2406.6" y1="518.8" x2="2406.6" y2="513.3" stroke="#000" stroke-width="2"/>
<line x1="2412.3" y1="518.8" x2="2412.3" y2="507.8" stroke="#000" stroke-width="2"/>
<rect x="1924.3" y="60.9" width="12.2" height="12.2" fill="#000"/>
<rect x="1962.1" y="76.9" width="12.2" height="12.2" fill="#000"/>
<rect x="1984.0" y="89.1" width="12.2" height="12.2" fill="#000"/>
<rect x="2011.7" y="111.1" width="12.2" height="12.2" fill="#000"/>
<rect x="2049.1" y="164.1" width="12.2" height="12.2" fill="#000"/>
<rect x="2086.9" y="224.9" width="12.2" height="12.2" fill="#000"/>
<rect x="2108.8" y="264.5" width="12.2" height="12.2" fill="#000"/>
<rect x="2136.5" y="312.1" width="12.2" height="12.2" fill="#000"/>
<rect x="2173.9" y="380.1" width="12.2" height="12.2" fill="#000"/>
<rect x="2211.7" y="430.5" width="12.2" height="12.2" fill="#000"/>
<rect x="2233.6" y="452.5" width="12.2" height="12.2" fill="#000"/>
<rect x="2261.3" y="473.2" width="12.2" height="12.2" fill="#000"/>
<circle cx="1930.4" cy="77.8" r="5.8" fill="#fff" stroke="#000" stroke-width="1.8"/>
<circle cx="1968.2" cy="94.0" r="5.8" fill="#fff" stroke="#000" stroke-width="1.8"/>
<circle cx="1990.1" cy="108.4" r="5.8" fill="#fff" stroke="#000" stroke-width="1.8"/>
<circle cx="2017.8" cy="133.6" r="5.8" fill="#fff" stroke="#000" stroke-width="1.8"/>
<circle cx="2055.2" cy="177.2" r="5.8" fill="#fff" stroke="#000" stroke-width="1.8"/>
<circle cx="2093.0" cy="241.5" r="5.8" fill="#fff" stroke="#000" stroke-width="1.8"/>
<circle cx="2114.9" cy="283.8" r="5.8" fill="#fff" stroke="#000" stroke-width="1.8"/>
<circle cx="2142.6" cy="333.0" r="5.8" fill="#fff" stroke="#000" stroke-width="1.8"/>
<circle cx="2180.0" cy="396.6" r="5.8" fill="#fff" stroke="#000" stroke-width="1.8"/>
<circle cx="2217.8" cy="442.0" r="5.8" fill="#fff" stroke="#000" stroke-width="1.8"/>
<circle cx="2239.7" cy="463.2" r="5.8" fill="#fff" stroke="#000" stroke-width="1.8"/>
<circle cx="2267.4" cy="482.1" r="5.8" fill="#fff" stroke="#000" stroke-width="1.8"/>
<path d="M1930.4 103.0L1938.2 116.2L1922.6 116.2Z" fill="#000" stroke="#000" stroke-width="1.5" stroke-linejoin="round"/>
<path d="M1968.2 118.8L1976.0 132.0L1960.4 132.0Z" fill="#000" stroke="#000" stroke-width="1.5" stroke-linejoin="round"/>
<path d="M1990.1 132.8L1997.9 146.0L1982.3 146.0Z" fill="#000" stroke="#000" stroke-width="1.5" stroke-linejoin="round"/>
<path d="M2017.8 160.4L2025.6 173.6L2010.0 173.6Z" fill="#000" stroke="#000" stroke-width="1.5" stroke-linejoin="round"/>
<path d="M2055.2 208.8L2063.0 222.0L2047.4 222.0Z" fill="#000" stroke="#000" stroke-width="1.5" stroke-linejoin="round"/>
<path d="M2093.0 264.4L2100.8 277.6L2085.2 277.6Z" fill="#000" stroke="#000" stroke-width="1.5" stroke-linejoin="round"/>
<path d="M2114.9 302.8L2122.7 316.0L2107.1 316.0Z" fill="#000" stroke="#000" stroke-width="1.5" stroke-linejoin="round"/>
<path d="M2142.6 351.4L2150.4 364.6L2134.8 364.6Z" fill="#000" stroke="#000" stroke-width="1.5" stroke-linejoin="round"/>
<path d="M2180.0 407.8L2187.8 421.0L2172.2 421.0Z" fill="#000" stroke="#000" stroke-width="1.5" stroke-linejoin="round"/>
<path d="M2217.8 450.2L2225.6 463.4L2210.0 463.4Z" fill="#000" stroke="#000" stroke-width="1.5" stroke-linejoin="round"/>
<path d="M2239.7 464.4L2247.5 477.6L2231.9 477.6Z" fill="#000" stroke="#000" stroke-width="1.5" stroke-linejoin="round"/>
<path d="M2267.4 479.6L2275.2 492.8L2259.6 492.8Z" fill="#000" stroke="#000" stroke-width="1.5" stroke-linejoin="round"/>
<path d="M1923.1 177.0L1937.7 177.0L1930.4 189.8Z" fill="#fff" stroke="#000" stroke-width="1.6"/>
<path d="M1960.9 193.0L1975.5 193.0L1968.2 205.8Z" fill="#fff" stroke="#000" stroke-width="1.6"/>
<path d="M1982.8 202.6L1997.4 202.6L1990.1 215.4Z" fill="#fff" stroke="#000" stroke-width="1.6"/>
<path d="M2010.5 228.4L2025.1 228.4L2017.8 241.2Z" fill="#fff" stroke="#000" stroke-width="1.6"/>
<path d="M2047.9 271.1L2062.5 271.1L2055.2 283.9Z" fill="#fff" stroke="#000" stroke-width="1.6"/>
<path d="M2085.7 325.8L2100.3 325.8L2093.0 338.6Z" fill="#fff" stroke="#000" stroke-width="1.6"/>
<path d="M2107.6 359.2L2122.2 359.2L2114.9 372.0Z" fill="#fff" stroke="#000" stroke-width="1.6"/>
<path d="M2135.3 398.6L2149.9 398.6L2142.6 411.4Z" fill="#fff" stroke="#000" stroke-width="1.6"/>
<path d="M2172.7 439.6L2187.3 439.6L2180.0 452.4Z" fill="#fff" stroke="#000" stroke-width="1.6"/>
<path d="M2210.5 472.7L2225.1 472.7L2217.8 485.5Z" fill="#fff" stroke="#000" stroke-width="1.6"/>
<path d="M2232.4 482.8L2247.0 482.8L2239.7 495.6Z" fill="#fff" stroke="#000" stroke-width="1.6"/>
<path d="M2260.1 492.2L2274.7 492.2L2267.4 505.0Z" fill="#fff" stroke="#000" stroke-width="1.6"/>
<rect x="1924.3" y="420.7" width="12.2" height="12.2" fill="#0000ff"/>
<rect x="1962.1" y="395.5" width="12.2" height="12.2" fill="#0000ff"/>
<rect x="1984.0" y="374.5" width="12.2" height="12.2" fill="#0000ff"/>
<rect x="2011.7" y="350.9" width="12.2" height="12.2" fill="#0000ff"/>
<rect x="2049.1" y="309.9" width="12.2" height="12.2" fill="#0000ff"/>
<rect x="2086.9" y="260.1" width="12.2" height="12.2" fill="#0000ff"/>
<rect x="2108.8" y="222.1" width="12.2" height="12.2" fill="#0000ff"/>
<rect x="2136.5" y="173.5" width="12.2" height="12.2" fill="#0000ff"/>
<rect x="2173.9" y="129.7" width="12.2" height="12.2" fill="#0000ff"/>
<rect x="2211.7" y="106.3" width="12.2" height="12.2" fill="#0000ff"/>
<rect x="2233.6" y="91.5" width="12.2" height="12.2" fill="#0000ff"/>
<rect x="2261.3" y="88.3" width="12.2" height="12.2" fill="#0000ff"/>
<circle cx="1930.4" cy="415.2" r="5.8" fill="#fff" stroke="#0000ff" stroke-width="1.8"/>
<circle cx="1968.2" cy="392.0" r="5.8" fill="#fff" stroke="#0000ff" stroke-width="1.8"/>
<circle cx="1990.1" cy="374.4" r="5.8" fill="#fff" stroke="#0000ff" stroke-width="1.8"/>
<circle cx="2017.8" cy="347.4" r="5.8" fill="#fff" stroke="#0000ff" stroke-width="1.8"/>
<circle cx="2055.2" cy="303.8" r="5.8" fill="#fff" stroke="#0000ff" stroke-width="1.8"/>
<circle cx="2093.0" cy="251.1" r="5.8" fill="#fff" stroke="#0000ff" stroke-width="1.8"/>
<circle cx="2114.9" cy="217.8" r="5.8" fill="#fff" stroke="#0000ff" stroke-width="1.8"/>
<circle cx="2142.6" cy="168.0" r="5.8" fill="#fff" stroke="#0000ff" stroke-width="1.8"/>
<circle cx="2180.0" cy="123.6" r="5.8" fill="#fff" stroke="#0000ff" stroke-width="1.8"/>
<circle cx="2217.8" cy="96.4" r="5.8" fill="#fff" stroke="#0000ff" stroke-width="1.8"/>
<circle cx="2239.7" cy="81.8" r="5.8" fill="#fff" stroke="#0000ff" stroke-width="1.8"/>
<circle cx="2267.4" cy="80.4" r="5.8" fill="#fff" stroke="#0000ff" stroke-width="1.8"/>
<path d="M1930.4 398.3L1938.2 411.5L1922.6 411.5Z" fill="#0000ff" stroke="#0000ff" stroke-width="1.5" stroke-linejoin="round"/>
<path d="M1968.2 376.4L1976.0 389.6L1960.4 389.6Z" fill="#0000ff" stroke="#0000ff" stroke-width="1.5" stroke-linejoin="round"/>
<path d="M1990.1 359.6L1997.9 372.8L1982.3 372.8Z" fill="#0000ff" stroke="#0000ff" stroke-width="1.5" stroke-linejoin="round"/>
<path d="M2017.8 330.8L2025.6 344.0L2010.0 344.0Z" fill="#0000ff" stroke="#0000ff" stroke-width="1.5" stroke-linejoin="round"/>
<path d="M2055.2 280.4L2063.0 293.6L2047.4 293.6Z" fill="#0000ff" stroke="#0000ff" stroke-width="1.5" stroke-linejoin="round"/>
<path d="M2093.0 226.8L2100.8 240.0L2085.2 240.0Z" fill="#0000ff" stroke="#0000ff" stroke-width="1.5" stroke-linejoin="round"/>
<path d="M2114.9 194.0L2122.7 207.2L2107.1 207.2Z" fill="#0000ff" stroke="#0000ff" stroke-width="1.5" stroke-linejoin="round"/>
<path d="M2142.6 142.0L2150.4 155.2L2134.8 155.2Z" fill="#0000ff" stroke="#0000ff" stroke-width="1.5" stroke-linejoin="round"/>
<path d="M2180.0 104.6L2187.8 117.8L2172.2 117.8Z" fill="#0000ff" stroke="#0000ff" stroke-width="1.5" stroke-linejoin="round"/>
<path d="M2217.8 71.0L2225.6 84.2L2210.0 84.2Z" fill="#0000ff" stroke="#0000ff" stroke-width="1.5" stroke-linejoin="round"/>
<path d="M2239.7 61.6L2247.5 74.8L2231.9 74.8Z" fill="#0000ff" stroke="#0000ff" stroke-width="1.5" stroke-linejoin="round"/>
<path d="M2267.4 56.0L2275.2 69.2L2259.6 69.2Z" fill="#0000ff" stroke="#0000ff" stroke-width="1.5" stroke-linejoin="round"/>
<path d="M1922.8 402.4L1938.0 402.4L1930.4 415.8Z" fill="#fff" stroke="#0000ff" stroke-width="1.0"/>
<path d="M1960.6 375.9L1975.8 375.9L1968.2 389.3Z" fill="#fff" stroke="#0000ff" stroke-width="1.0"/>
<path d="M1982.5 355.9L1997.7 355.9L1990.1 369.3Z" fill="#fff" stroke="#0000ff" stroke-width="1.0"/>
<path d="M2010.2 325.1L2025.4 325.1L2017.8 338.5Z" fill="#fff" stroke="#0000ff" stroke-width="1.0"/>
<path d="M2047.6 276.6L2062.8 276.6L2055.2 290.0Z" fill="#fff" stroke="#0000ff" stroke-width="1.0"/>
<path d="M2085.4 211.3L2100.6 211.3L2093.0 224.7Z" fill="#fff" stroke="#0000ff" stroke-width="1.0"/>
<path d="M2107.3 176.5L2122.5 176.5L2114.9 189.9Z" fill="#fff" stroke="#0000ff" stroke-width="1.0"/>
<path d="M2135.0 127.3L2150.2 127.3L2142.6 140.7Z" fill="#fff" stroke="#0000ff" stroke-width="1.0"/>
<path d="M2172.4 91.3L2187.6 91.3L2180.0 104.7Z" fill="#fff" stroke="#0000ff" stroke-width="1.0"/>
<path d="M2210.2 59.7L2225.4 59.7L2217.8 73.1Z" fill="#fff" stroke="#0000ff" stroke-width="1.0"/>
<path d="M2232.1 48.3L2247.3 48.3L2239.7 61.7Z" fill="#fff" stroke="#0000ff" stroke-width="1.0"/>
<path d="M2259.8 44.9L2275.0 44.9L2267.4 58.3Z" fill="#fff" stroke="#0000ff" stroke-width="1.0"/>
<text x="1774.4" y="529.8" font-size="32.5" text-anchor="end">0</text>
<text x="1774.4" y="404.0" font-size="32.5" text-anchor="end">10</text>
<text x="1774.4" y="278.3" font-size="32.5" text-anchor="end">20</text>
<text x="1774.4" y="152.6" font-size="32.5" text-anchor="end">30</text>
<text x="1774.4" y="26.8" font-size="32.5" text-anchor="end">40</text>
<text x="2459.5" y="529.0" font-size="32.5" text-anchor="end">0</text>
<text x="2459.5" y="428.4" font-size="32.5" text-anchor="end">5</text>
<text x="2459.5" y="327.8" font-size="32.5" text-anchor="end">10</text>
<text x="2459.5" y="227.2" font-size="32.5" text-anchor="end">15</text>
<text x="2459.5" y="126.6" font-size="32.5" text-anchor="end">20</text>
<text x="2459.5" y="26.0" font-size="32.5" text-anchor="end">25</text>
<text x="1789.6" y="559.4" font-size="36.3" text-anchor="middle">1E-6</text>
<text x="1914.9" y="559.4" font-size="36.3" text-anchor="middle">1E-5</text>
<text x="2039.2" y="559.4" font-size="36.3" text-anchor="middle">1E-4</text>
<text x="2161.9" y="559.4" font-size="36.3" text-anchor="middle">0.001</text>
<text x="2286.5" y="559.4" font-size="36.3" text-anchor="middle">0.01</text>
<text x="2410.3" y="559.4" font-size="36.3" text-anchor="middle">0.1</text>
<text x="2096.8" y="595.4" font-size="33.5" text-anchor="middle">Shear strain, <tspan font-style="italic">γ</tspan></text>
<text x="1718.5" y="261.5" font-size="33" text-anchor="middle" transform="rotate(-90 1718.5 261.5)">Dynamic shear modulus, <tspan font-style="italic">G</tspan>/MPa</text>
<text x="2489.8" y="267.6" font-size="33" text-anchor="middle" transform="rotate(-90 2489.8 267.6)">Damping ratio, <tspan font-style="italic">λ</tspan>%</text>
<text x="1803.5" y="47.5" font-size="36">(c)</text>
<line x1="96.4" y1="668.6" x2="96.4" y2="1174.4" stroke="#000" stroke-width="2"/>
<line x1="720.4" y1="668.6" x2="720.4" y2="1174.4" stroke="#000" stroke-width="2"/>
<line x1="95.4" y1="1173.4" x2="721.4" y2="1173.4" stroke="#000" stroke-width="2"/>
<line x1="96.4" y1="1173.4" x2="107.4" y2="1173.4" stroke="#000" stroke-width="2"/>
<line x1="96.4" y1="1110.4" x2="101.9" y2="1110.4" stroke="#000" stroke-width="2"/>
<line x1="96.4" y1="1047.5" x2="107.4" y2="1047.5" stroke="#000" stroke-width="2"/>
<line x1="96.4" y1="984.5" x2="101.9" y2="984.5" stroke="#000" stroke-width="2"/>
<line x1="96.4" y1="921.5" x2="107.4" y2="921.5" stroke="#000" stroke-width="2"/>
<line x1="96.4" y1="858.5" x2="101.9" y2="858.5" stroke="#000" stroke-width="2"/>
<line x1="96.4" y1="795.6" x2="107.4" y2="795.6" stroke="#000" stroke-width="2"/>
<line x1="96.4" y1="732.6" x2="101.9" y2="732.6" stroke="#000" stroke-width="2"/>
<line x1="96.4" y1="669.6" x2="107.4" y2="669.6" stroke="#000" stroke-width="2"/>
<line x1="720.4" y1="1173.4" x2="709.4" y2="1173.4" stroke="#000" stroke-width="2"/>
<line x1="720.4" y1="1123.0" x2="714.9" y2="1123.0" stroke="#000" stroke-width="2"/>
<line x1="720.4" y1="1072.6" x2="709.4" y2="1072.6" stroke="#000" stroke-width="2"/>
<line x1="720.4" y1="1022.3" x2="714.9" y2="1022.3" stroke="#000" stroke-width="2"/>
<line x1="720.4" y1="971.9" x2="709.4" y2="971.9" stroke="#000" stroke-width="2"/>
<line x1="720.4" y1="921.5" x2="714.9" y2="921.5" stroke="#000" stroke-width="2"/>
<line x1="720.4" y1="871.1" x2="709.4" y2="871.1" stroke="#000" stroke-width="2"/>
<line x1="720.4" y1="820.7" x2="714.9" y2="820.7" stroke="#000" stroke-width="2"/>
<line x1="720.4" y1="770.4" x2="709.4" y2="770.4" stroke="#000" stroke-width="2"/>
<line x1="720.4" y1="720.0" x2="714.9" y2="720.0" stroke="#000" stroke-width="2"/>
<line x1="720.4" y1="669.6" x2="709.4" y2="669.6" stroke="#000" stroke-width="2"/>
<line x1="96.4" y1="1173.4" x2="96.4" y2="1162.4" stroke="#000" stroke-width="2"/>
<line x1="134.0" y1="1173.4" x2="134.0" y2="1167.9" stroke="#000" stroke-width="2"/>
<line x1="155.9" y1="1173.4" x2="155.9" y2="1167.9" stroke="#000" stroke-width="2"/>
<line x1="171.5" y1="1173.4" x2="171.5" y2="1167.9" stroke="#000" stroke-width="2"/>
<line x1="183.6" y1="1173.4" x2="183.6" y2="1167.9" stroke="#000" stroke-width="2"/>
<line x1="193.5" y1="1173.4" x2="193.5" y2="1167.9" stroke="#000" stroke-width="2"/>
<line x1="201.9" y1="1173.4" x2="201.9" y2="1167.9" stroke="#000" stroke-width="2"/>
<line x1="209.1" y1="1173.4" x2="209.1" y2="1167.9" stroke="#000" stroke-width="2"/>
<line x1="215.5" y1="1173.4" x2="215.5" y2="1167.9" stroke="#000" stroke-width="2"/>
<line x1="221.2" y1="1173.4" x2="221.2" y2="1162.4" stroke="#000" stroke-width="2"/>
<line x1="258.8" y1="1173.4" x2="258.8" y2="1167.9" stroke="#000" stroke-width="2"/>
<line x1="280.7" y1="1173.4" x2="280.7" y2="1167.9" stroke="#000" stroke-width="2"/>
<line x1="296.3" y1="1173.4" x2="296.3" y2="1167.9" stroke="#000" stroke-width="2"/>
<line x1="308.4" y1="1173.4" x2="308.4" y2="1167.9" stroke="#000" stroke-width="2"/>
<line x1="318.3" y1="1173.4" x2="318.3" y2="1167.9" stroke="#000" stroke-width="2"/>
<line x1="326.7" y1="1173.4" x2="326.7" y2="1167.9" stroke="#000" stroke-width="2"/>
<line x1="333.9" y1="1173.4" x2="333.9" y2="1167.9" stroke="#000" stroke-width="2"/>
<line x1="340.3" y1="1173.4" x2="340.3" y2="1167.9" stroke="#000" stroke-width="2"/>
<line x1="346.0" y1="1173.4" x2="346.0" y2="1162.4" stroke="#000" stroke-width="2"/>
<line x1="383.6" y1="1173.4" x2="383.6" y2="1167.9" stroke="#000" stroke-width="2"/>
<line x1="405.5" y1="1173.4" x2="405.5" y2="1167.9" stroke="#000" stroke-width="2"/>
<line x1="421.1" y1="1173.4" x2="421.1" y2="1167.9" stroke="#000" stroke-width="2"/>
<line x1="433.2" y1="1173.4" x2="433.2" y2="1167.9" stroke="#000" stroke-width="2"/>
<line x1="443.1" y1="1173.4" x2="443.1" y2="1167.9" stroke="#000" stroke-width="2"/>
<line x1="451.5" y1="1173.4" x2="451.5" y2="1167.9" stroke="#000" stroke-width="2"/>
<line x1="458.7" y1="1173.4" x2="458.7" y2="1167.9" stroke="#000" stroke-width="2"/>
<line x1="465.1" y1="1173.4" x2="465.1" y2="1167.9" stroke="#000" stroke-width="2"/>
<line x1="470.8" y1="1173.4" x2="470.8" y2="1162.4" stroke="#000" stroke-width="2"/>
<line x1="508.4" y1="1173.4" x2="508.4" y2="1167.9" stroke="#000" stroke-width="2"/>
<line x1="530.3" y1="1173.4" x2="530.3" y2="1167.9" stroke="#000" stroke-width="2"/>
<line x1="545.9" y1="1173.4" x2="545.9" y2="1167.9" stroke="#000" stroke-width="2"/>
<line x1="558.0" y1="1173.4" x2="558.0" y2="1167.9" stroke="#000" stroke-width="2"/>
<line x1="567.9" y1="1173.4" x2="567.9" y2="1167.9" stroke="#000" stroke-width="2"/>
<line x1="576.3" y1="1173.4" x2="576.3" y2="1167.9" stroke="#000" stroke-width="2"/>
<line x1="583.5" y1="1173.4" x2="583.5" y2="1167.9" stroke="#000" stroke-width="2"/>
<line x1="589.9" y1="1173.4" x2="589.9" y2="1167.9" stroke="#000" stroke-width="2"/>
<line x1="595.6" y1="1173.4" x2="595.6" y2="1162.4" stroke="#000" stroke-width="2"/>
<line x1="633.2" y1="1173.4" x2="633.2" y2="1167.9" stroke="#000" stroke-width="2"/>
<line x1="655.1" y1="1173.4" x2="655.1" y2="1167.9" stroke="#000" stroke-width="2"/>
<line x1="670.7" y1="1173.4" x2="670.7" y2="1167.9" stroke="#000" stroke-width="2"/>
<line x1="682.8" y1="1173.4" x2="682.8" y2="1167.9" stroke="#000" stroke-width="2"/>
<line x1="692.7" y1="1173.4" x2="692.7" y2="1167.9" stroke="#000" stroke-width="2"/>
<line x1="701.1" y1="1173.4" x2="701.1" y2="1167.9" stroke="#000" stroke-width="2"/>
<line x1="708.3" y1="1173.4" x2="708.3" y2="1167.9" stroke="#000" stroke-width="2"/>
<line x1="714.7" y1="1173.4" x2="714.7" y2="1167.9" stroke="#000" stroke-width="2"/>
<line x1="720.4" y1="1173.4" x2="720.4" y2="1162.4" stroke="#000" stroke-width="2"/>
<rect x="232.5" y="677.7" width="12.2" height="12.2" fill="#000"/>
<rect x="270.3" y="692.3" width="12.2" height="12.2" fill="#000"/>
<rect x="292.2" y="706.3" width="12.2" height="12.2" fill="#000"/>
<rect x="319.9" y="728.9" width="12.2" height="12.2" fill="#000"/>
<rect x="357.3" y="779.1" width="12.2" height="12.2" fill="#000"/>
<rect x="395.1" y="851.5" width="12.2" height="12.2" fill="#000"/>
<rect x="417.0" y="896.9" width="12.2" height="12.2" fill="#000"/>
<rect x="444.7" y="953.1" width="12.2" height="12.2" fill="#000"/>
<rect x="482.1" y="1018.1" width="12.2" height="12.2" fill="#000"/>
<rect x="519.9" y="1066.9" width="12.2" height="12.2" fill="#000"/>
<rect x="541.8" y="1092.8" width="12.2" height="12.2" fill="#000"/>
<rect x="569.5" y="1117.9" width="12.2" height="12.2" fill="#000"/>
<circle cx="238.6" cy="702.4" r="5.8" fill="#fff" stroke="#000" stroke-width="1.8"/>
<circle cx="276.4" cy="719.6" r="5.8" fill="#fff" stroke="#000" stroke-width="1.8"/>
<circle cx="298.3" cy="736.0" r="5.8" fill="#fff" stroke="#000" stroke-width="1.8"/>
<circle cx="326.0" cy="762.4" r="5.8" fill="#fff" stroke="#000" stroke-width="1.8"/>
<circle cx="363.4" cy="812.0" r="5.8" fill="#fff" stroke="#000" stroke-width="1.8"/>
<circle cx="401.2" cy="883.6" r="5.8" fill="#fff" stroke="#000" stroke-width="1.8"/>
<circle cx="423.1" cy="927.0" r="5.8" fill="#fff" stroke="#000" stroke-width="1.8"/>
<circle cx="450.8" cy="981.0" r="5.8" fill="#fff" stroke="#000" stroke-width="1.8"/>
<circle cx="488.2" cy="1043.6" r="5.8" fill="#fff" stroke="#000" stroke-width="1.8"/>
<circle cx="526.0" cy="1086.0" r="5.8" fill="#fff" stroke="#000" stroke-width="1.8"/>
<circle cx="547.9" cy="1111.8" r="5.8" fill="#fff" stroke="#000" stroke-width="1.8"/>
<circle cx="575.6" cy="1134.2" r="5.8" fill="#fff" stroke="#000" stroke-width="1.8"/>
<path d="M238.6 724.4L246.4 737.6L230.8 737.6Z" fill="#000" stroke="#000" stroke-width="1.5" stroke-linejoin="round"/>
<path d="M276.4 740.8L284.2 754.0L268.6 754.0Z" fill="#000" stroke="#000" stroke-width="1.5" stroke-linejoin="round"/>
<path d="M298.3 756.0L306.1 769.2L290.5 769.2Z" fill="#000" stroke="#000" stroke-width="1.5" stroke-linejoin="round"/>
<path d="M326.0 783.4L333.8 796.6L318.2 796.6Z" fill="#000" stroke="#000" stroke-width="1.5" stroke-linejoin="round"/>
<path d="M363.4 839.4L371.2 852.6L355.6 852.6Z" fill="#000" stroke="#000" stroke-width="1.5" stroke-linejoin="round"/>
<path d="M401.2 906.4L409.0 919.6L393.4 919.6Z" fill="#000" stroke="#000" stroke-width="1.5" stroke-linejoin="round"/>
<path d="M423.1 948.4L430.9 961.6L415.3 961.6Z" fill="#000" stroke="#000" stroke-width="1.5" stroke-linejoin="round"/>
<path d="M450.8 995.4L458.6 1008.6L443.0 1008.6Z" fill="#000" stroke="#000" stroke-width="1.5" stroke-linejoin="round"/>
<path d="M488.2 1056.4L496.0 1069.6L480.4 1069.6Z" fill="#000" stroke="#000" stroke-width="1.5" stroke-linejoin="round"/>
<path d="M526.0 1093.9L533.8 1107.1L518.2 1107.1Z" fill="#000" stroke="#000" stroke-width="1.5" stroke-linejoin="round"/>
<path d="M547.9 1115.0L555.7 1128.2L540.1 1128.2Z" fill="#000" stroke="#000" stroke-width="1.5" stroke-linejoin="round"/>
<path d="M575.6 1136.6L583.4 1149.8L567.8 1149.8Z" fill="#000" stroke="#000" stroke-width="1.5" stroke-linejoin="round"/>
<path d="M231.3 799.2L245.9 799.2L238.6 812.0Z" fill="#fff" stroke="#000" stroke-width="1.6"/>
<path d="M269.1 816.4L283.7 816.4L276.4 829.2Z" fill="#fff" stroke="#000" stroke-width="1.6"/>
<path d="M291.0 829.8L305.6 829.8L298.3 842.6Z" fill="#fff" stroke="#000" stroke-width="1.6"/>
<path d="M318.7 856.8L333.3 856.8L326.0 869.6Z" fill="#fff" stroke="#000" stroke-width="1.6"/>
<path d="M356.1 907.6L370.7 907.6L363.4 920.4Z" fill="#fff" stroke="#000" stroke-width="1.6"/>
<path d="M393.9 968.2L408.5 968.2L401.2 981.0Z" fill="#fff" stroke="#000" stroke-width="1.6"/>
<path d="M415.8 1005.6L430.4 1005.6L423.1 1018.4Z" fill="#fff" stroke="#000" stroke-width="1.6"/>
<path d="M443.5 1042.8L458.1 1042.8L450.8 1055.6Z" fill="#fff" stroke="#000" stroke-width="1.6"/>
<path d="M480.9 1088.9L495.5 1088.9L488.2 1101.7Z" fill="#fff" stroke="#000" stroke-width="1.6"/>
<path d="M518.7 1119.8L533.3 1119.8L526.0 1132.6Z" fill="#fff" stroke="#000" stroke-width="1.6"/>
<path d="M540.6 1135.5L555.2 1135.5L547.9 1148.3Z" fill="#fff" stroke="#000" stroke-width="1.6"/>
<path d="M568.3 1149.4L582.9 1149.4L575.6 1162.2Z" fill="#fff" stroke="#000" stroke-width="1.6"/>
<rect x="232.5" y="1069.0" width="12.2" height="12.2" fill="#0000ff"/>
<rect x="270.3" y="1048.4" width="12.2" height="12.2" fill="#0000ff"/>
<rect x="292.2" y="1028.8" width="12.2" height="12.2" fill="#0000ff"/>
<rect x="319.9" y="985.5" width="12.2" height="12.2" fill="#0000ff"/>
<rect x="357.3" y="945.5" width="12.2" height="12.2" fill="#0000ff"/>
<rect x="395.1" y="891.1" width="12.2" height="12.2" fill="#0000ff"/>
<rect x="417.0" y="865.7" width="12.2" height="12.2" fill="#0000ff"/>
<rect x="444.7" y="834.9" width="12.2" height="12.2" fill="#0000ff"/>
<rect x="482.1" y="783.1" width="12.2" height="12.2" fill="#0000ff"/>
<rect x="519.9" y="740.1" width="12.2" height="12.2" fill="#0000ff"/>
<rect x="541.8" y="730.5" width="12.2" height="12.2" fill="#0000ff"/>
<rect x="569.5" y="725.7" width="12.2" height="12.2" fill="#0000ff"/>
<circle cx="238.6" cy="1069.8" r="5.8" fill="#fff" stroke="#0000ff" stroke-width="1.8"/>
<circle cx="276.4" cy="1052.0" r="5.8" fill="#fff" stroke="#0000ff" stroke-width="1.8"/>
<circle cx="298.3" cy="1029.9" r="5.8" fill="#fff" stroke="#0000ff" stroke-width="1.8"/>
<circle cx="326.0" cy="982.2" r="5.8" fill="#fff" stroke="#0000ff" stroke-width="1.8"/>
<circle cx="363.4" cy="942.4" r="5.8" fill="#fff" stroke="#0000ff" stroke-width="1.8"/>
<circle cx="401.2" cy="885.4" r="5.8" fill="#fff" stroke="#0000ff" stroke-width="1.8"/>
<circle cx="423.1" cy="857.2" r="5.8" fill="#fff" stroke="#0000ff" stroke-width="1.8"/>
<circle cx="450.8" cy="825.6" r="5.8" fill="#fff" stroke="#0000ff" stroke-width="1.8"/>
<circle cx="488.2" cy="775.0" r="5.8" fill="#fff" stroke="#0000ff" stroke-width="1.8"/>
<circle cx="526.0" cy="734.2" r="5.8" fill="#fff" stroke="#0000ff" stroke-width="1.8"/>
<circle cx="547.9" cy="725.4" r="5.8" fill="#fff" stroke="#0000ff" stroke-width="1.8"/>
<circle cx="575.6" cy="725.0" r="5.8" fill="#fff" stroke="#0000ff" stroke-width="1.8"/>
<path d="M238.6 1057.1L246.4 1070.3L230.8 1070.3Z" fill="#0000ff" stroke="#0000ff" stroke-width="1.5" stroke-linejoin="round"/>
<path d="M276.4 1037.7L284.2 1050.9L268.6 1050.9Z" fill="#0000ff" stroke="#0000ff" stroke-width="1.5" stroke-linejoin="round"/>
<path d="M298.3 1012.3L306.1 1025.5L290.5 1025.5Z" fill="#0000ff" stroke="#0000ff" stroke-width="1.5" stroke-linejoin="round"/>
<path d="M326.0 960.4L333.8 973.6L318.2 973.6Z" fill="#0000ff" stroke="#0000ff" stroke-width="1.5" stroke-linejoin="round"/>
<path d="M363.4 919.4L371.2 932.6L355.6 932.6Z" fill="#0000ff" stroke="#0000ff" stroke-width="1.5" stroke-linejoin="round"/>
<path d="M401.2 863.6L409.0 876.8L393.4 876.8Z" fill="#0000ff" stroke="#0000ff" stroke-width="1.5" stroke-linejoin="round"/>
<path d="M423.1 838.4L430.9 851.6L415.3 851.6Z" fill="#0000ff" stroke="#0000ff" stroke-width="1.5" stroke-linejoin="round"/>
<path d="M450.8 804.8L458.6 818.0L443.0 818.0Z" fill="#0000ff" stroke="#0000ff" stroke-width="1.5" stroke-linejoin="round"/>
<path d="M488.2 752.4L496.0 765.6L480.4 765.6Z" fill="#0000ff" stroke="#0000ff" stroke-width="1.5" stroke-linejoin="round"/>
<path d="M526.0 717.4L533.8 730.6L518.2 730.6Z" fill="#0000ff" stroke="#0000ff" stroke-width="1.5" stroke-linejoin="round"/>
<path d="M547.9 709.0L555.7 722.2L540.1 722.2Z" fill="#0000ff" stroke="#0000ff" stroke-width="1.5" stroke-linejoin="round"/>
<path d="M575.6 705.0L583.4 718.2L567.8 718.2Z" fill="#0000ff" stroke="#0000ff" stroke-width="1.5" stroke-linejoin="round"/>
<path d="M231.3 1047.5L245.9 1047.5L238.6 1060.3Z" fill="#fff" stroke="#0000ff" stroke-width="1.6"/>
<path d="M269.1 1026.7L283.7 1026.7L276.4 1039.5Z" fill="#fff" stroke="#0000ff" stroke-width="1.6"/>
<path d="M291.0 1000.9L305.6 1000.9L298.3 1013.7Z" fill="#fff" stroke="#0000ff" stroke-width="1.6"/>
<path d="M318.7 951.2L333.3 951.2L326.0 964.0Z" fill="#fff" stroke="#0000ff" stroke-width="1.6"/>
<path d="M356.1 911.0L370.7 911.0L363.4 923.8Z" fill="#fff" stroke="#0000ff" stroke-width="1.6"/>
<path d="M393.9 856.6L408.5 856.6L401.2 869.4Z" fill="#fff" stroke="#0000ff" stroke-width="1.6"/>
<path d="M415.8 827.0L430.4 827.0L423.1 839.8Z" fill="#fff" stroke="#0000ff" stroke-width="1.6"/>
<path d="M443.5 796.6L458.1 796.6L450.8 809.4Z" fill="#fff" stroke="#0000ff" stroke-width="1.6"/>
<path d="M480.9 745.0L495.5 745.0L488.2 757.8Z" fill="#fff" stroke="#0000ff" stroke-width="1.6"/>
<path d="M518.7 718.0L533.3 718.0L526.0 730.8Z" fill="#fff" stroke="#0000ff" stroke-width="1.6"/>
<path d="M540.6 706.0L555.2 706.0L547.9 718.8Z" fill="#fff" stroke="#0000ff" stroke-width="1.6"/>
<path d="M568.3 700.6L582.9 700.6L575.6 713.4Z" fill="#fff" stroke="#0000ff" stroke-width="1.6"/>
<text x="80.6" y="1184.4" font-size="32.5" text-anchor="end">0</text>
<text x="80.6" y="1058.5" font-size="32.5" text-anchor="end">10</text>
<text x="80.6" y="932.5" font-size="32.5" text-anchor="end">20</text>
<text x="80.6" y="806.6" font-size="32.5" text-anchor="end">30</text>
<text x="80.6" y="680.6" font-size="32.5" text-anchor="end">40</text>
<text x="766.5" y="1181.1" font-size="32.5" text-anchor="end">0</text>
<text x="766.5" y="1080.3" font-size="32.5" text-anchor="end">5</text>
<text x="766.5" y="979.6" font-size="32.5" text-anchor="end">10</text>
<text x="766.5" y="878.8" font-size="32.5" text-anchor="end">15</text>
<text x="766.5" y="778.1" font-size="32.5" text-anchor="end">20</text>
<text x="766.5" y="677.3" font-size="32.5" text-anchor="end">25</text>
<text x="95.7" y="1213.6" font-size="32.5" text-anchor="middle">1E-6</text>
<text x="220.2" y="1213.6" font-size="32.5" text-anchor="middle">1E-5</text>
<text x="345.0" y="1213.6" font-size="32.5" text-anchor="middle">1E-4</text>
<text x="469.0" y="1213.6" font-size="32.5" text-anchor="middle">0.001</text>
<text x="592.9" y="1213.6" font-size="32.5" text-anchor="middle">0.01</text>
<text x="717.5" y="1213.6" font-size="32.5" text-anchor="middle">0.1</text>
<text x="405.4" y="1249.7" font-size="33.5" text-anchor="middle">Shear strain, <tspan font-style="italic">γ</tspan></text>
<text x="26.6" y="916.3" font-size="33" text-anchor="middle" transform="rotate(-90 26.6 916.3)">Dynamic shear modulus, <tspan font-style="italic">G</tspan>/MPa</text>
<text x="797.9" y="924.2" font-size="33" text-anchor="middle" transform="rotate(-90 797.9 924.2)">Damping ratio, <tspan font-style="italic">λ</tspan>%</text>
<text x="116.5" y="698.5" font-size="36">(d)</text>
<line x1="941.2" y1="668.9" x2="941.2" y2="1174.6" stroke="#000" stroke-width="2"/>
<line x1="1564.8" y1="668.9" x2="1564.8" y2="1174.6" stroke="#000" stroke-width="2"/>
<line x1="940.2" y1="1173.6" x2="1565.8" y2="1173.6" stroke="#000" stroke-width="2"/>
<line x1="941.2" y1="1173.6" x2="952.2" y2="1173.6" stroke="#000" stroke-width="2"/>
<line x1="941.2" y1="1123.2" x2="946.7" y2="1123.2" stroke="#000" stroke-width="2"/>
<line x1="941.2" y1="1072.9" x2="952.2" y2="1072.9" stroke="#000" stroke-width="2"/>
<line x1="941.2" y1="1022.5" x2="946.7" y2="1022.5" stroke="#000" stroke-width="2"/>
<line x1="941.2" y1="972.1" x2="952.2" y2="972.1" stroke="#000" stroke-width="2"/>
<line x1="941.2" y1="921.8" x2="946.7" y2="921.8" stroke="#000" stroke-width="2"/>
<line x1="941.2" y1="871.4" x2="952.2" y2="871.4" stroke="#000" stroke-width="2"/>
<line x1="941.2" y1="821.0" x2="946.7" y2="821.0" stroke="#000" stroke-width="2"/>
<line x1="941.2" y1="770.6" x2="952.2" y2="770.6" stroke="#000" stroke-width="2"/>
<line x1="941.2" y1="720.3" x2="946.7" y2="720.3" stroke="#000" stroke-width="2"/>
<line x1="941.2" y1="669.9" x2="952.2" y2="669.9" stroke="#000" stroke-width="2"/>
<line x1="1564.8" y1="1173.6" x2="1553.8" y2="1173.6" stroke="#000" stroke-width="2"/>
<line x1="1564.8" y1="1123.2" x2="1559.3" y2="1123.2" stroke="#000" stroke-width="2"/>
<line x1="1564.8" y1="1072.9" x2="1553.8" y2="1072.9" stroke="#000" stroke-width="2"/>
<line x1="1564.8" y1="1022.5" x2="1559.3" y2="1022.5" stroke="#000" stroke-width="2"/>
<line x1="1564.8" y1="972.1" x2="1553.8" y2="972.1" stroke="#000" stroke-width="2"/>
<line x1="1564.8" y1="921.8" x2="1559.3" y2="921.8" stroke="#000" stroke-width="2"/>
<line x1="1564.8" y1="871.4" x2="1553.8" y2="871.4" stroke="#000" stroke-width="2"/>
<line x1="1564.8" y1="821.0" x2="1559.3" y2="821.0" stroke="#000" stroke-width="2"/>
<line x1="1564.8" y1="770.6" x2="1553.8" y2="770.6" stroke="#000" stroke-width="2"/>
<line x1="1564.8" y1="720.3" x2="1559.3" y2="720.3" stroke="#000" stroke-width="2"/>
<line x1="1564.8" y1="669.9" x2="1553.8" y2="669.9" stroke="#000" stroke-width="2"/>
<line x1="941.2" y1="1173.6" x2="941.2" y2="1162.6" stroke="#000" stroke-width="2"/>
<line x1="978.7" y1="1173.6" x2="978.7" y2="1168.1" stroke="#000" stroke-width="2"/>
<line x1="1000.7" y1="1173.6" x2="1000.7" y2="1168.1" stroke="#000" stroke-width="2"/>
<line x1="1016.3" y1="1173.6" x2="1016.3" y2="1168.1" stroke="#000" stroke-width="2"/>
<line x1="1028.4" y1="1173.6" x2="1028.4" y2="1168.1" stroke="#000" stroke-width="2"/>
<line x1="1038.3" y1="1173.6" x2="1038.3" y2="1168.1" stroke="#000" stroke-width="2"/>
<line x1="1046.6" y1="1173.6" x2="1046.6" y2="1168.1" stroke="#000" stroke-width="2"/>
<line x1="1053.8" y1="1173.6" x2="1053.8" y2="1168.1" stroke="#000" stroke-width="2"/>
<line x1="1060.2" y1="1173.6" x2="1060.2" y2="1168.1" stroke="#000" stroke-width="2"/>
<line x1="1065.9" y1="1173.6" x2="1065.9" y2="1162.6" stroke="#000" stroke-width="2"/>
<line x1="1103.5" y1="1173.6" x2="1103.5" y2="1168.1" stroke="#000" stroke-width="2"/>
<line x1="1125.4" y1="1173.6" x2="1125.4" y2="1168.1" stroke="#000" stroke-width="2"/>
<line x1="1141.0" y1="1173.6" x2="1141.0" y2="1168.1" stroke="#000" stroke-width="2"/>
<line x1="1153.1" y1="1173.6" x2="1153.1" y2="1168.1" stroke="#000" stroke-width="2"/>
<line x1="1163.0" y1="1173.6" x2="1163.0" y2="1168.1" stroke="#000" stroke-width="2"/>
<line x1="1171.3" y1="1173.6" x2="1171.3" y2="1168.1" stroke="#000" stroke-width="2"/>
<line x1="1178.6" y1="1173.6" x2="1178.6" y2="1168.1" stroke="#000" stroke-width="2"/>
<line x1="1184.9" y1="1173.6" x2="1184.9" y2="1168.1" stroke="#000" stroke-width="2"/>
<line x1="1190.6" y1="1173.6" x2="1190.6" y2="1162.6" stroke="#000" stroke-width="2"/>
<line x1="1228.2" y1="1173.6" x2="1228.2" y2="1168.1" stroke="#000" stroke-width="2"/>
<line x1="1250.1" y1="1173.6" x2="1250.1" y2="1168.1" stroke="#000" stroke-width="2"/>
<line x1="1265.7" y1="1173.6" x2="1265.7" y2="1168.1" stroke="#000" stroke-width="2"/>
<line x1="1277.8" y1="1173.6" x2="1277.8" y2="1168.1" stroke="#000" stroke-width="2"/>
<line x1="1287.7" y1="1173.6" x2="1287.7" y2="1168.1" stroke="#000" stroke-width="2"/>
<line x1="1296.0" y1="1173.6" x2="1296.0" y2="1168.1" stroke="#000" stroke-width="2"/>
<line x1="1303.3" y1="1173.6" x2="1303.3" y2="1168.1" stroke="#000" stroke-width="2"/>
<line x1="1309.7" y1="1173.6" x2="1309.7" y2="1168.1" stroke="#000" stroke-width="2"/>
<line x1="1315.4" y1="1173.6" x2="1315.4" y2="1162.6" stroke="#000" stroke-width="2"/>
<line x1="1352.9" y1="1173.6" x2="1352.9" y2="1168.1" stroke="#000" stroke-width="2"/>
<line x1="1374.9" y1="1173.6" x2="1374.9" y2="1168.1" stroke="#000" stroke-width="2"/>
<line x1="1390.4" y1="1173.6" x2="1390.4" y2="1168.1" stroke="#000" stroke-width="2"/>
<line x1="1402.5" y1="1173.6" x2="1402.5" y2="1168.1" stroke="#000" stroke-width="2"/>
<line x1="1412.4" y1="1173.6" x2="1412.4" y2="1168.1" stroke="#000" stroke-width="2"/>
<line x1="1420.8" y1="1173.6" x2="1420.8" y2="1168.1" stroke="#000" stroke-width="2"/>
<line x1="1428.0" y1="1173.6" x2="1428.0" y2="1168.1" stroke="#000" stroke-width="2"/>
<line x1="1434.4" y1="1173.6" x2="1434.4" y2="1168.1" stroke="#000" stroke-width="2"/>
<line x1="1440.1" y1="1173.6" x2="1440.1" y2="1162.6" stroke="#000" stroke-width="2"/>
<line x1="1477.6" y1="1173.6" x2="1477.6" y2="1168.1" stroke="#000" stroke-width="2"/>
<line x1="1499.6" y1="1173.6" x2="1499.6" y2="1168.1" stroke="#000" stroke-width="2"/>
<line x1="1515.2" y1="1173.6" x2="1515.2" y2="1168.1" stroke="#000" stroke-width="2"/>
<line x1="1527.3" y1="1173.6" x2="1527.3" y2="1168.1" stroke="#000" stroke-width="2"/>
<line x1="1537.1" y1="1173.6" x2="1537.1" y2="1168.1" stroke="#000" stroke-width="2"/>
<line x1="1545.5" y1="1173.6" x2="1545.5" y2="1168.1" stroke="#000" stroke-width="2"/>
<line x1="1552.7" y1="1173.6" x2="1552.7" y2="1168.1" stroke="#000" stroke-width="2"/>
<line x1="1559.1" y1="1173.6" x2="1559.1" y2="1168.1" stroke="#000" stroke-width="2"/>
<line x1="1564.8" y1="1173.6" x2="1564.8" y2="1162.6" stroke="#000" stroke-width="2"/>
<rect x="1077.3" y="728.1" width="12.2" height="12.2" fill="#000"/>
<rect x="1115.1" y="739.5" width="12.2" height="12.2" fill="#000"/>
<rect x="1137.0" y="749.1" width="12.2" height="12.2" fill="#000"/>
<rect x="1164.7" y="768.1" width="12.2" height="12.2" fill="#000"/>
<rect x="1202.0" y="807.1" width="12.2" height="12.2" fill="#000"/>
<rect x="1239.8" y="867.7" width="12.2" height="12.2" fill="#000"/>
<rect x="1261.7" y="906.9" width="12.2" height="12.2" fill="#000"/>
<rect x="1289.4" y="954.5" width="12.2" height="12.2" fill="#000"/>
<rect x="1326.7" y="1020.5" width="12.2" height="12.2" fill="#000"/>
<rect x="1364.5" y="1077.1" width="12.2" height="12.2" fill="#000"/>
<rect x="1386.4" y="1094.9" width="12.2" height="12.2" fill="#000"/>
<rect x="1414.1" y="1114.1" width="12.2" height="12.2" fill="#000"/>
<circle cx="1083.4" cy="750.0" r="5.8" fill="#fff" stroke="#000" stroke-width="1.8"/>
<circle cx="1121.2" cy="763.4" r="5.8" fill="#fff" stroke="#000" stroke-width="1.8"/>
<circle cx="1143.1" cy="773.6" r="5.8" fill="#fff" stroke="#000" stroke-width="1.8"/>
<circle cx="1170.8" cy="796.4" r="5.8" fill="#fff" stroke="#000" stroke-width="1.8"/>
<circle cx="1208.1" cy="837.0" r="5.8" fill="#fff" stroke="#000" stroke-width="1.8"/>
<circle cx="1245.9" cy="898.0" r="5.8" fill="#fff" stroke="#000" stroke-width="1.8"/>
<circle cx="1267.8" cy="931.4" r="5.8" fill="#fff" stroke="#000" stroke-width="1.8"/>
<circle cx="1295.5" cy="979.2" r="5.8" fill="#fff" stroke="#000" stroke-width="1.8"/>
<circle cx="1332.8" cy="1041.6" r="5.8" fill="#fff" stroke="#000" stroke-width="1.8"/>
<circle cx="1370.6" cy="1091.4" r="5.8" fill="#fff" stroke="#000" stroke-width="1.8"/>
<circle cx="1392.5" cy="1110.0" r="5.8" fill="#fff" stroke="#000" stroke-width="1.8"/>
<circle cx="1420.2" cy="1126.4" r="5.8" fill="#fff" stroke="#000" stroke-width="1.8"/>
<path d="M1083.4 766.0L1091.2 779.2L1075.6 779.2Z" fill="#000" stroke="#000" stroke-width="1.5" stroke-linejoin="round"/>
<path d="M1121.2 780.8L1129.0 794.0L1113.4 794.0Z" fill="#000" stroke="#000" stroke-width="1.5" stroke-linejoin="round"/>
<path d="M1143.1 792.8L1150.9 806.0L1135.3 806.0Z" fill="#000" stroke="#000" stroke-width="1.5" stroke-linejoin="round"/>
<path d="M1170.8 816.4L1178.6 829.6L1163.0 829.6Z" fill="#000" stroke="#000" stroke-width="1.5" stroke-linejoin="round"/>
<path d="M1208.1 863.6L1215.9 876.8L1200.3 876.8Z" fill="#000" stroke="#000" stroke-width="1.5" stroke-linejoin="round"/>
<path d="M1245.9 920.8L1253.7 934.0L1238.1 934.0Z" fill="#000" stroke="#000" stroke-width="1.5" stroke-linejoin="round"/>
<path d="M1267.8 957.4L1275.6 970.6L1260.0 970.6Z" fill="#000" stroke="#000" stroke-width="1.5" stroke-linejoin="round"/>
<path d="M1295.5 998.8L1303.3 1012.0L1287.7 1012.0Z" fill="#000" stroke="#000" stroke-width="1.5" stroke-linejoin="round"/>
<path d="M1332.8 1055.4L1340.6 1068.6L1325.0 1068.6Z" fill="#000" stroke="#000" stroke-width="1.5" stroke-linejoin="round"/>
<path d="M1370.6 1097.1L1378.4 1110.3L1362.8 1110.3Z" fill="#000" stroke="#000" stroke-width="1.5" stroke-linejoin="round"/>
<path d="M1392.5 1110.5L1400.3 1123.7L1384.7 1123.7Z" fill="#000" stroke="#000" stroke-width="1.5" stroke-linejoin="round"/>
<path d="M1420.2 1125.4L1428.0 1138.6L1412.4 1138.6Z" fill="#000" stroke="#000" stroke-width="1.5" stroke-linejoin="round"/>
<path d="M1076.1 831.0L1090.7 831.0L1083.4 843.8Z" fill="#fff" stroke="#000" stroke-width="1.6"/>
<path d="M1113.9 842.0L1128.5 842.0L1121.2 854.8Z" fill="#fff" stroke="#000" stroke-width="1.6"/>
<path d="M1135.8 855.4L1150.4 855.4L1143.1 868.2Z" fill="#fff" stroke="#000" stroke-width="1.6"/>
<path d="M1163.5 880.2L1178.1 880.2L1170.8 893.0Z" fill="#fff" stroke="#000" stroke-width="1.6"/>
<path d="M1200.8 920.6L1215.4 920.6L1208.1 933.4Z" fill="#fff" stroke="#000" stroke-width="1.6"/>
<path d="M1238.6 972.6L1253.2 972.6L1245.9 985.4Z" fill="#fff" stroke="#000" stroke-width="1.6"/>
<path d="M1260.5 1008.4L1275.1 1008.4L1267.8 1021.2Z" fill="#fff" stroke="#000" stroke-width="1.6"/>
<path d="M1288.2 1048.4L1302.8 1048.4L1295.5 1061.2Z" fill="#fff" stroke="#000" stroke-width="1.6"/>
<path d="M1325.5 1088.6L1340.1 1088.6L1332.8 1101.4Z" fill="#fff" stroke="#000" stroke-width="1.6"/>
<path d="M1363.3 1119.6L1377.9 1119.6L1370.6 1132.4Z" fill="#fff" stroke="#000" stroke-width="1.6"/>
<path d="M1385.2 1130.7L1399.8 1130.7L1392.5 1143.5Z" fill="#fff" stroke="#000" stroke-width="1.6"/>
<path d="M1412.9 1140.7L1427.5 1140.7L1420.2 1153.5Z" fill="#fff" stroke="#000" stroke-width="1.6"/>
<rect x="1077.3" y="1090.3" width="12.2" height="12.2" fill="#0000ff"/>
<rect x="1115.1" y="1072.9" width="12.2" height="12.2" fill="#0000ff"/>
<rect x="1137.0" y="1059.3" width="12.2" height="12.2" fill="#0000ff"/>
<rect x="1164.7" y="1020.5" width="12.2" height="12.2" fill="#0000ff"/>
<rect x="1202.0" y="985.3" width="12.2" height="12.2" fill="#0000ff"/>
<rect x="1239.8" y="936.9" width="12.2" height="12.2" fill="#0000ff"/>
<rect x="1261.7" y="905.1" width="12.2" height="12.2" fill="#0000ff"/>
<rect x="1289.4" y="867.9" width="12.2" height="12.2" fill="#0000ff"/>
<rect x="1326.7" y="819.7" width="12.2" height="12.2" fill="#0000ff"/>
<rect x="1364.5" y="789.7" width="12.2" height="12.2" fill="#0000ff"/>
<rect x="1386.4" y="780.1" width="12.2" height="12.2" fill="#0000ff"/>
<rect x="1414.1" y="773.7" width="12.2" height="12.2" fill="#0000ff"/>
<circle cx="1083.4" cy="1097.0" r="5.8" fill="#fff" stroke="#0000ff" stroke-width="1.8"/>
<circle cx="1121.2" cy="1078.0" r="5.8" fill="#fff" stroke="#0000ff" stroke-width="1.8"/>
<circle cx="1143.1" cy="1062.5" r="5.8" fill="#fff" stroke="#0000ff" stroke-width="1.8"/>
<circle cx="1170.8" cy="1019.4" r="5.8" fill="#fff" stroke="#0000ff" stroke-width="1.8"/>
<circle cx="1208.1" cy="986.4" r="5.8" fill="#fff" stroke="#0000ff" stroke-width="1.8"/>
<circle cx="1245.9" cy="936.0" r="5.8" fill="#fff" stroke="#0000ff" stroke-width="1.8"/>
<circle cx="1267.8" cy="905.3" r="5.8" fill="#fff" stroke="#0000ff" stroke-width="1.8"/>
<circle cx="1295.5" cy="866.6" r="5.8" fill="#fff" stroke="#0000ff" stroke-width="1.8"/>
<circle cx="1332.8" cy="817.8" r="5.8" fill="#fff" stroke="#0000ff" stroke-width="1.8"/>
<circle cx="1370.6" cy="788.6" r="5.8" fill="#fff" stroke="#0000ff" stroke-width="1.8"/>
<circle cx="1392.5" cy="777.8" r="5.8" fill="#fff" stroke="#0000ff" stroke-width="1.8"/>
<circle cx="1420.2" cy="769.8" r="5.8" fill="#fff" stroke="#0000ff" stroke-width="1.8"/>
<path d="M1083.4 1086.2L1091.2 1099.4L1075.6 1099.4Z" fill="#0000ff" stroke="#0000ff" stroke-width="1.5" stroke-linejoin="round"/>
<path d="M1121.2 1065.2L1129.0 1078.4L1113.4 1078.4Z" fill="#0000ff" stroke="#0000ff" stroke-width="1.5" stroke-linejoin="round"/>
<path d="M1143.1 1048.4L1150.9 1061.6L1135.3 1061.6Z" fill="#0000ff" stroke="#0000ff" stroke-width="1.5" stroke-linejoin="round"/>
<path d="M1170.8 1004.8L1178.6 1018.0L1163.0 1018.0Z" fill="#0000ff" stroke="#0000ff" stroke-width="1.5" stroke-linejoin="round"/>
<path d="M1208.1 965.4L1215.9 978.6L1200.3 978.6Z" fill="#0000ff" stroke="#0000ff" stroke-width="1.5" stroke-linejoin="round"/>
<path d="M1245.9 915.9L1253.7 929.1L1238.1 929.1Z" fill="#0000ff" stroke="#0000ff" stroke-width="1.5" stroke-linejoin="round"/>
<path d="M1267.8 883.6L1275.6 896.8L1260.0 896.8Z" fill="#0000ff" stroke="#0000ff" stroke-width="1.5" stroke-linejoin="round"/>
<path d="M1295.5 848.2L1303.3 861.4L1287.7 861.4Z" fill="#0000ff" stroke="#0000ff" stroke-width="1.5" stroke-linejoin="round"/>
<path d="M1332.8 798.6L1340.6 811.8L1325.0 811.8Z" fill="#0000ff" stroke="#0000ff" stroke-width="1.5" stroke-linejoin="round"/>
<path d="M1370.6 769.8L1378.4 783.0L1362.8 783.0Z" fill="#0000ff" stroke="#0000ff" stroke-width="1.5" stroke-linejoin="round"/>
<path d="M1392.5 757.6L1400.3 770.8L1384.7 770.8Z" fill="#0000ff" stroke="#0000ff" stroke-width="1.5" stroke-linejoin="round"/>
<path d="M1420.2 749.0L1428.0 762.2L1412.4 762.2Z" fill="#0000ff" stroke="#0000ff" stroke-width="1.5" stroke-linejoin="round"/>
<rect x="1078.1" y="1074.7" width="10.7" height="10.7" fill="#fff" stroke="#0000ff" stroke-width="1.7"/>
<rect x="1115.9" y="1054.1" width="10.7" height="10.7" fill="#fff" stroke="#0000ff" stroke-width="1.7"/>
<rect x="1137.8" y="1038.7" width="10.7" height="10.7" fill="#fff" stroke="#0000ff" stroke-width="1.7"/>
<rect x="1165.5" y="1001.2" width="10.7" height="10.7" fill="#fff" stroke="#0000ff" stroke-width="1.7"/>
<rect x="1202.8" y="954.6" width="10.7" height="10.7" fill="#fff" stroke="#0000ff" stroke-width="1.7"/>
<rect x="1240.6" y="900.5" width="10.7" height="10.7" fill="#fff" stroke="#0000ff" stroke-width="1.7"/>
<rect x="1262.5" y="871.2" width="10.7" height="10.7" fill="#fff" stroke="#0000ff" stroke-width="1.7"/>
<rect x="1290.2" y="832.6" width="10.7" height="10.7" fill="#fff" stroke="#0000ff" stroke-width="1.7"/>
<rect x="1327.5" y="786.6" width="10.7" height="10.7" fill="#fff" stroke="#0000ff" stroke-width="1.7"/>
<rect x="1365.3" y="758.6" width="10.7" height="10.7" fill="#fff" stroke="#0000ff" stroke-width="1.7"/>
<rect x="1387.2" y="743.6" width="10.7" height="10.7" fill="#fff" stroke="#0000ff" stroke-width="1.7"/>
<rect x="1414.9" y="735.6" width="10.7" height="10.7" fill="#fff" stroke="#0000ff" stroke-width="1.7"/>
<text x="929.0" y="1184.6" font-size="32.5" text-anchor="end">0</text>
<text x="929.0" y="1083.9" font-size="32.5" text-anchor="end">10</text>
<text x="929.0" y="983.1" font-size="32.5" text-anchor="end">20</text>
<text x="929.0" y="882.4" font-size="32.5" text-anchor="end">30</text>
<text x="929.0" y="781.6" font-size="32.5" text-anchor="end">40</text>
<text x="929.0" y="680.9" font-size="32.5" text-anchor="end">50</text>
<text x="1607.8" y="1181.0" font-size="32.5" text-anchor="end">0</text>
<text x="1607.8" y="1080.3" font-size="32.5" text-anchor="end">5</text>
<text x="1607.8" y="979.5" font-size="32.5" text-anchor="end">10</text>
<text x="1607.8" y="878.8" font-size="32.5" text-anchor="end">15</text>
<text x="1607.8" y="778.0" font-size="32.5" text-anchor="end">20</text>
<text x="1607.8" y="677.3" font-size="32.5" text-anchor="end">25</text>
<text x="946.1" y="1211.5" font-size="32.5" text-anchor="middle">1E-6</text>
<text x="1071.3" y="1211.5" font-size="32.5" text-anchor="middle">1E-5</text>
<text x="1195.8" y="1211.5" font-size="32.5" text-anchor="middle">1E-4</text>
<text x="1319.5" y="1211.5" font-size="32.5" text-anchor="middle">0.001</text>
<text x="1443.3" y="1211.5" font-size="32.5" text-anchor="middle">0.01</text>
<text x="1567.7" y="1211.5" font-size="32.5" text-anchor="middle">0.1</text>
<text x="1254.8" y="1251.9" font-size="33.5" text-anchor="middle">Shear strain, <tspan font-style="italic">γ</tspan></text>
<text x="876.7" y="942.1" font-size="33" text-anchor="middle" transform="rotate(-90 876.7 942.1)">Dynamic shear modulus, <tspan font-style="italic">G</tspan>/MPa</text>
<text x="1647.9" y="950.4" font-size="33" text-anchor="middle" transform="rotate(-90 1647.9 950.4)">Damping ratio, <tspan font-style="italic">λ</tspan>%</text>
<text x="962.5" y="701.0" font-size="36">(e)</text>
<text transform="translate(288.6 44.8) scale(1.35 1)" font-size="32.5" font-style="italic">σ</text>
<text y="44.8" font-size="32.5"><tspan x="313.5" y="40.5" font-style="italic">′</tspan><tspan x="308.5" y="55.1" font-size="32.5">m</tspan></text>
<text transform="translate(334.5 44.8) scale(1.22 1)" font-size="32.5">=</text>
<text x="365.9" y="44.8" font-size="32.5">50</text>
<text x="409.2" y="44.8" font-size="32.5">kPa</text>
<text y="94.7" font-size="32.5"><tspan x="297.2" font-style="italic">k</tspan><tspan x="314.4" y="103.4" font-size="32.5">c</tspan></text>
<text transform="translate(335.3 94.7) scale(1.22 1)" font-size="32.5">=</text>
<text x="364.8" y="94.7" font-size="32.5">1.0</text>
<rect x="488.4" y="200.9" width="12.2" height="12.2" fill="#000"/>
<text x="516.6" y="217.8" font-size="32.5" font-style="italic">U</text>
<text transform="translate(553.2 217.8) scale(1.22 1)" font-size="32.5">=</text>
<text x="583.2" y="217.8" font-size="32.5">1.0</text>
<circle cx="494.5" cy="245.3" r="5.8" fill="#fff" stroke="#000" stroke-width="1.8"/>
<text x="516.6" y="254.8" font-size="32.5" font-style="italic">U</text>
<text transform="translate(553.2 254.8) scale(1.22 1)" font-size="32.5">=</text>
<text x="583.2" y="254.8" font-size="32.5">0.95</text>
<path d="M494.5 275.4L502.3 288.6L486.7 288.6Z" fill="#000" stroke="#000" stroke-width="1.5" stroke-linejoin="round"/>
<text x="516.6" y="293.4" font-size="32.5" font-style="italic">U</text>
<text transform="translate(553.2 293.4) scale(1.22 1)" font-size="32.5">=</text>
<text x="583.2" y="293.4" font-size="32.5">0.8</text>
<path d="M487.2 312.4L501.8 312.4L494.5 325.2Z" fill="#fff" stroke="#000" stroke-width="1.6"/>
<text x="516.6" y="330.8" font-size="32.5" font-style="italic">U</text>
<text transform="translate(553.2 330.8) scale(1.22 1)" font-size="32.5">=</text>
<text x="583.2" y="330.8" font-size="32.5">0.6</text>
<text transform="translate(951.6 268.0) scale(1.45 1)" font-size="32.5" font-style="italic">σ</text>
<text y="268.0" font-size="35.7"><tspan x="978.1" y="262.0" font-style="italic">′</tspan><tspan x="974.1" y="274.6" font-size="28">m</tspan></text>
<text transform="translate(996.9 268.0) scale(1.22 1)" font-size="35.7">=</text>
<text x="1025.1" y="268.0" font-size="35.7">100kPa</text>
<text y="311.2" font-size="35.7"><tspan x="959.7" font-style="italic">k</tspan><tspan x="978.3" y="317.0" font-size="27">c</tspan></text>
<text transform="translate(997.8 311.2) scale(1.22 1)" font-size="35.7">=</text>
<text x="1027.7" y="311.2" font-size="35.7">1.0</text>
<rect x="1347.7" y="197.2" width="12.2" height="12.2" fill="#000"/>
<text x="1375.7" y="215.2" font-size="35.7" font-style="italic">U</text>
<text transform="translate(1410.1 215.2) scale(1.22 1)" font-size="35.7">=</text>
<text x="1442.3" y="215.2" font-size="35.7">1.0</text>
<circle cx="1353.8" cy="241.8" r="5.8" fill="#fff" stroke="#000" stroke-width="1.8"/>
<text x="1375.7" y="251.9" font-size="35.7" font-style="italic">U</text>
<text transform="translate(1410.1 251.9) scale(1.22 1)" font-size="35.7">=</text>
<text x="1442.3" y="251.9" font-size="35.7">0.95</text>
<path d="M1353.8 271.3L1361.6 284.5L1346.0 284.5Z" fill="#000" stroke="#000" stroke-width="1.5" stroke-linejoin="round"/>
<text x="1375.7" y="290.8" font-size="35.7" font-style="italic">U</text>
<text transform="translate(1410.1 290.8) scale(1.22 1)" font-size="35.7">=</text>
<text x="1442.3" y="290.8" font-size="35.7">0.8</text>
<path d="M1346.5 308.2L1361.1 308.2L1353.8 321.0Z" fill="#fff" stroke="#000" stroke-width="1.6"/>
<text x="1375.7" y="328.2" font-size="35.7" font-style="italic">U</text>
<text transform="translate(1410.1 328.2) scale(1.22 1)" font-size="35.7">=</text>
<text x="1442.3" y="328.2" font-size="35.7">0.6</text>
<text transform="translate(1821.3 291.3) scale(1.45 1)" font-size="32.5" font-style="italic">σ</text>
<text y="291.3" font-size="35.7"><tspan x="1847.8" y="285.3" font-style="italic">′</tspan><tspan x="1844.2" y="297.8" font-size="28">m</tspan></text>
<text transform="translate(1867.3 291.3) scale(1.22 1)" font-size="35.7">=</text>
<text x="1894.1" y="291.3" font-size="35.7">150kPa</text>
<text y="334.5" font-size="35.7"><tspan x="1829.9" font-style="italic">k</tspan><tspan x="1847.8" y="339.7" font-size="27">c</tspan></text>
<text transform="translate(1867.8 334.5) scale(1.22 1)" font-size="35.7">=</text>
<text x="1897.6" y="334.5" font-size="35.7">1.0</text>
<rect x="2235.7" y="188.2" width="12.2" height="12.2" fill="#000"/>
<text x="2264.7" y="204.8" font-size="35.7" font-style="italic">U</text>
<text transform="translate(2298.6 204.8) scale(1.22 1)" font-size="35.7">=</text>
<text x="2330.0" y="204.8" font-size="35.7">1.0</text>
<circle cx="2241.8" cy="232.4" r="5.8" fill="#fff" stroke="#000" stroke-width="1.8"/>
<text x="2264.7" y="242.8" font-size="35.7" font-style="italic">U</text>
<text transform="translate(2298.6 242.8) scale(1.22 1)" font-size="35.7">=</text>
<text x="2330.0" y="242.8" font-size="35.7">0.95</text>
<path d="M2241.8 262.5L2249.6 275.7L2234.0 275.7Z" fill="#000" stroke="#000" stroke-width="1.5" stroke-linejoin="round"/>
<text x="2264.7" y="281.5" font-size="35.7" font-style="italic">U</text>
<text transform="translate(2298.6 281.5) scale(1.22 1)" font-size="35.7">=</text>
<text x="2330.0" y="281.5" font-size="35.7">0.8</text>
<path d="M2234.5 299.4L2249.1 299.4L2241.8 312.2Z" fill="#fff" stroke="#000" stroke-width="1.6"/>
<text x="2264.7" y="318.2" font-size="35.7" font-style="italic">U</text>
<text transform="translate(2298.6 318.2) scale(1.22 1)" font-size="35.7">=</text>
<text x="2330.0" y="318.2" font-size="35.7">0.6</text>
<text transform="translate(132.7 913.2) scale(1.45 1)" font-size="32.5" font-style="italic">σ</text>
<text y="913.2" font-size="35.7"><tspan x="159.1" y="907.2" font-style="italic">′</tspan><tspan x="155.1" y="919.9" font-size="28">m</tspan></text>
<text transform="translate(177.2 913.2) scale(1.22 1)" font-size="35.7">=</text>
<text x="205.4" y="913.2" font-size="35.7">100kPa</text>
<text y="956.9" font-size="35.7"><tspan x="140.7" font-style="italic">k</tspan><tspan x="159.1" y="962.0" font-size="27">c</tspan></text>
<text transform="translate(179.1 956.9) scale(1.22 1)" font-size="35.7">=</text>
<text x="208.6" y="956.9" font-size="35.7">1.2</text>
<rect x="505.7" y="848.9" width="12.2" height="12.2" fill="#000"/>
<text x="533.8" y="866.7" font-size="35.7" font-style="italic">U</text>
<text transform="translate(567.0 866.7) scale(1.22 1)" font-size="35.7">=</text>
<text x="599.0" y="866.7" font-size="35.7">1.0</text>
<circle cx="511.8" cy="893.4" r="5.8" fill="#fff" stroke="#000" stroke-width="1.8"/>
<text x="533.8" y="904.7" font-size="35.7" font-style="italic">U</text>
<text transform="translate(567.0 904.7) scale(1.22 1)" font-size="35.7">=</text>
<text x="599.0" y="904.7" font-size="35.7">0.95</text>
<path d="M511.8 923.7L519.6 936.9L504.0 936.9Z" fill="#000" stroke="#000" stroke-width="1.5" stroke-linejoin="round"/>
<text x="533.8" y="943.1" font-size="35.7" font-style="italic">U</text>
<text transform="translate(567.0 943.1) scale(1.22 1)" font-size="35.7">=</text>
<text x="599.0" y="943.1" font-size="35.7">0.8</text>
<path d="M504.5 960.1L519.1 960.1L511.8 972.9Z" fill="#fff" stroke="#000" stroke-width="1.6"/>
<text x="533.8" y="980.7" font-size="35.7" font-style="italic">U</text>
<text transform="translate(567.0 980.7) scale(1.22 1)" font-size="35.7">=</text>
<text x="599.0" y="980.7" font-size="35.7">0.6</text>
<text transform="translate(962.6 937.5) scale(1.45 1)" font-size="32.5" font-style="italic">σ</text>
<text y="937.5" font-size="35.7"><tspan x="989.1" y="931.5" font-style="italic">′</tspan><tspan x="985.1" y="942.2" font-size="28">m</tspan></text>
<text transform="translate(1007.2 937.5) scale(1.22 1)" font-size="35.7">=</text>
<text x="1035.4" y="937.5" font-size="35.7">100kPa</text>
<text y="980.2" font-size="35.7"><tspan x="970.1" font-style="italic">k</tspan><tspan x="988.4" y="986.4" font-size="27">c</tspan></text>
<text transform="translate(1008.3 980.2) scale(1.22 1)" font-size="35.7">=</text>
<text x="1037.9" y="980.2" font-size="35.7">1.4</text>
<line x1="1713.8" y1="661.8" x2="2426" y2="661.8" stroke="#37a2c4" stroke-width="1.9" stroke-dasharray="15.7 10.9" stroke-linecap="round"/>
<line x1="1713.8" y1="661.8" x2="1713.8" y2="1177.4" stroke="#37a2c4" stroke-width="1.9" stroke-dasharray="15.7 10.9" stroke-linecap="round"/>
<text transform="translate(2042.8 724) scale(1.25 1)" font-size="36" font-style="italic">σ</text>
<text y="724" font-size="36"><tspan x="2071" y="714" font-style="italic" font-size="36">′</tspan><tspan x="2065" y="728.9" font-size="27">m</tspan><tspan x="2091" y="724">/kPa</tspan></text>
<text y="724.3" font-size="36"><tspan x="2230.5" font-style="italic">k</tspan><tspan x="2248" y="728.9" font-size="24">c</tspan></text>
<text x="1900.5" y="776.8" font-size="36">Fig. (a)</text>
<text x="2102" y="776.8" font-size="36" text-anchor="middle">50</text>
<text x="2245.3" y="776.8" font-size="36" text-anchor="middle">1.0</text>
<text x="1900.5" y="819.2" font-size="36">Fig. (b)</text>
<text x="2102" y="819.2" font-size="36" text-anchor="middle">100</text>
<text x="2245.3" y="819.2" font-size="36" text-anchor="middle">1.0</text>
<text x="1900.5" y="861.6" font-size="36">Fig. (c)</text>
<text x="2102" y="861.6" font-size="36" text-anchor="middle">150</text>
<text x="2245.3" y="861.6" font-size="36" text-anchor="middle">1.0</text>
<text x="1900.5" y="904.0" font-size="36">Fig. (d)</text>
<text x="2102" y="904.0" font-size="36" text-anchor="middle">100</text>
<text x="2245.3" y="904.0" font-size="36" text-anchor="middle">1.2</text>
<text x="1900.5" y="946.4" font-size="36">Fig. (e)</text>
<text x="2102" y="946.4" font-size="36" text-anchor="middle">100</text>
<text x="2245.3" y="946.4" font-size="36" text-anchor="middle">1.4</text>
<line x1="1817.2" y1="976.1" x2="2335.1" y2="976.1" stroke="#7f7f7f" stroke-width="1.4"/>
<line x1="1888.7" y1="1025.6" x2="2335.1" y2="1025.6" stroke="#7f7f7f" stroke-width="1.4"/>
<line x1="1817.2" y1="1073.3" x2="2335.1" y2="1073.3" stroke="#7f7f7f" stroke-width="1.4"/>
<line x1="1817.2" y1="1173.9" x2="2335.1" y2="1173.9" stroke="#7f7f7f" stroke-width="1.4"/>
<line x1="1888.4" y1="976.1" x2="1888.4" y2="1173.9" stroke="#222" stroke-width="1.2"/>
<text x="2128.6" y="1008" font-size="31.5" text-anchor="middle">Degree of consolidation, <tspan font-style="italic">U</tspan></text>
<text x="1958.1" y="1060.1" font-size="36" text-anchor="middle">0.6</text>
<text x="2073.9" y="1060.1" font-size="36" text-anchor="middle">0.8</text>
<text x="2186.1" y="1060.1" font-size="36" text-anchor="middle">0.95</text>
<text x="2296.1" y="1060.1" font-size="36" text-anchor="middle">1.0</text>
<text x="1851.9" y="1109.6" font-size="36" text-anchor="middle" font-style="italic">G</text>
<text x="1851" y="1166.5" font-size="36" text-anchor="middle" font-style="italic">λ</text>
<path d="M1943.7 1085.8L1972.3 1085.8L1958 1110.6Z" fill="none" stroke="#000" stroke-width="1.4" stroke-linejoin="miter"/>
<path d="M2073.6 1085.0L2088.6 1111.4L2058.6 1111.4Z" fill="#000" stroke="#000" stroke-width="1" stroke-linejoin="round"/>
<circle cx="2186.2" cy="1098.2" r="11.9" fill="none" stroke="#000" stroke-width="1.4"/>
<rect x="2283.2" y="1086.8" width="22.8" height="22.8" fill="#000"/>
<path d="M1943.7 1136.4L1972.3 1136.4L1958 1161.2Z" fill="none" stroke="#0000ff" stroke-width="1.4" stroke-linejoin="miter"/>
<path d="M2073.6 1135.6L2088.6 1162.0L2058.6 1162.0Z" fill="#0000ff" stroke="#0000ff" stroke-width="1" stroke-linejoin="round"/>
<circle cx="2186.2" cy="1148.8" r="11.9" fill="none" stroke="#0000ff" stroke-width="1.4"/>
<rect x="2283.2" y="1137.4" width="22.8" height="22.8" fill="#0000ff"/>
</svg></body></html>
